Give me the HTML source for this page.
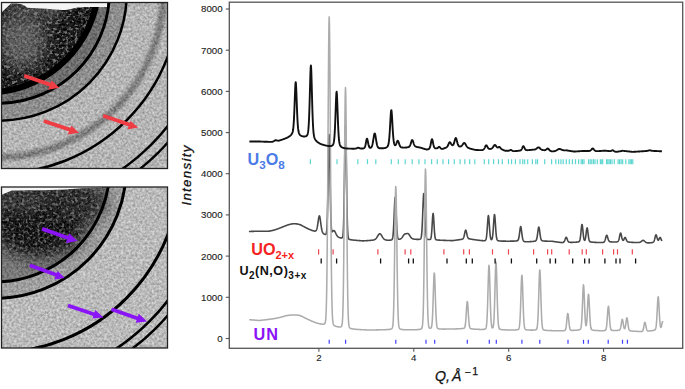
<!DOCTYPE html>
<html><head><meta charset="utf-8"><style>
html,body{margin:0;padding:0;background:#fff;}
svg{display:block;}
</style></head><body>
<svg width="685" height="389" viewBox="0 0 685 389">
<rect width="685" height="389" fill="#fff"/>

<defs>
 <filter id="grain" x="0" y="0" width="100%" height="100%" color-interpolation-filters="sRGB">
  <feTurbulence type="fractalNoise" baseFrequency="0.42" numOctaves="2" seed="7" result="n"/>
  <feColorMatrix in="n" type="matrix" values="1 0 0 0 0  1 0 0 0 0  1 0 0 0 0  0 0 0 0 1" result="g0"/>
  <feGaussianBlur in="g0" stdDeviation="0.7" result="g"/>
  <feComposite in="SourceGraphic" in2="g" operator="arithmetic" k1="0" k2="1" k3="0.42" k4="-0.21"/>
 </filter>
 <filter id="speck" x="0" y="0" width="100%" height="100%" color-interpolation-filters="sRGB">
  <feTurbulence type="fractalNoise" baseFrequency="0.32" numOctaves="2" seed="11" result="n"/>
  <feColorMatrix in="n" type="matrix" values="0 0 0 0 0.5  0 0 0 0 0.5  0 0 0 0 0.5  5 0 0 0 -2.6"/>
  <feGaussianBlur stdDeviation="0.35"/>
 </filter>
 <filter id="b15" x="-30%" y="-30%" width="160%" height="160%"><feGaussianBlur stdDeviation="1.6"/></filter>
 <filter id="b4" x="-50%" y="-50%" width="200%" height="200%"><feGaussianBlur stdDeviation="4"/></filter>
 <filter id="b8" x="-50%" y="-50%" width="200%" height="200%"><feGaussianBlur stdDeviation="8"/></filter>
 <filter id="b12" x="-50%" y="-50%" width="200%" height="200%"><feGaussianBlur stdDeviation="12"/></filter>
 <clipPath id="cTop"><rect x="1.5" y="2.5" width="166" height="166"/></clipPath>
 <clipPath id="cBot"><rect x="1.5" y="187" width="166" height="161"/></clipPath>
 <clipPath id="cTopDark"><ellipse cx="-1.60" cy="-7.70" rx="111.00" ry="111.00" transform="rotate(45 -1.60 -7.70)" fill="none"/></clipPath>
 <clipPath id="cBotDark"><circle cx="-4.75" cy="167.3" r="114.6"/></clipPath>
</defs>
<g clip-path="url(#cTop)">
 <g filter="url(#grain)">
  <rect x="0" y="0" width="172" height="172" fill="#b5b5b5"/>
  <circle cx="-1.60" cy="-7.70" r="128.40" fill="#8e8e8e"/>
  <ellipse cx="-1.60" cy="-7.70" rx="111.00" ry="111.00" transform="rotate(45 -1.60 -7.70)" fill="#6a6a6a"/>
  <ellipse cx="-1.60" cy="-7.70" rx="95.50" ry="104.50" transform="rotate(45 -1.60 -7.70)" fill="#161616"/>
  <ellipse cx="22" cy="40" rx="24" ry="30" fill="#5a5a5a" filter="url(#b8)"/>
  <ellipse cx="35" cy="12" rx="30" ry="9" fill="#444" filter="url(#b4)"/>
  <circle cx="-1.60" cy="-7.70" r="165.00" fill="none" stroke="#7c7c7c" stroke-width="7.00" filter="url(#b15)"/>
 </g>
 <rect x="0" y="0" width="172" height="172" filter="url(#speck)" clip-path="url(#cTopDark)" opacity="0.9"/>
 <ellipse cx="-1.60" cy="-7.70" rx="95.50" ry="104.50" transform="rotate(45 -1.60 -7.70)" fill="none" stroke="#000" stroke-width="6.00"/>
 <path d="M0,0 L107,0 L107,7 C100,7 90,7 80,7.2 C75,7.5 70,10 62,10 C55,9.5 40,8.2 27,7.8 C25,5 20,3.6 14,3.6 L11,3.6 L2,12 L0,12 Z" fill="#f4f4f4"/>
 <ellipse cx="-1.60" cy="-7.70" rx="111.00" ry="111.00" transform="rotate(45 -1.60 -7.70)" fill="none" stroke="#000" stroke-width="2.90"/>
 <circle cx="-1.60" cy="-7.70" r="128.40" fill="none" stroke="#000" stroke-width="2.50"/>
 <circle cx="-1.60" cy="-7.70" r="181.20" fill="none" stroke="#000" stroke-width="2.50"/>
 <circle cx="-1.60" cy="-7.70" r="215.80" fill="none" stroke="#000" stroke-width="2.50"/>
 <circle cx="-1.60" cy="-7.70" r="226.40" fill="none" stroke="#000" stroke-width="2.30"/>
 <polygon points="23.6,77.6 49.4,86.4 48.2,89.7 59.4,87.8 51.6,80.4 50.7,82.8 24.8,74.0" fill="#ef3d45"/><polygon points="43.2,122.8 69.1,131.4 67.6,134.5 79.1,132.7 71.4,125.8 70.3,127.8 44.4,119.2" fill="#ef3d45"/><polygon points="102.6,117.6 128.6,126.4 127.4,129.6 138.2,127.6 130.5,121.0 129.8,122.8 103.8,114.0" fill="#ef3d45"/>
</g>
<rect x="1.5" y="2.5" width="166" height="166" fill="none" stroke="#222" stroke-width="1.3"/>
<g clip-path="url(#cBot)">
 <g filter="url(#grain)">
  <rect x="0" y="185" width="172" height="166" fill="#bababa"/>
  <circle cx="-4.75" cy="167.30" r="131.10" fill="#9e9e9e"/>
  <circle cx="-4.75" cy="167.30" r="114.60" fill="#787878"/>
  <ellipse cx="38" cy="222" rx="48" ry="36" fill="#141414" filter="url(#b8)"/>
  <ellipse cx="20" cy="200" rx="30" ry="14" fill="#333" filter="url(#b4)"/>
  <ellipse cx="78" cy="202" rx="28" ry="20" fill="#262626" filter="url(#b8)"/>
 </g>
 <rect x="0" y="185" width="172" height="166" filter="url(#speck)" clip-path="url(#cBotDark)" opacity="0.75"/>
 <circle cx="-4.75" cy="167.30" r="114.60" fill="none" stroke="#000" stroke-width="3.00"/>
 <circle cx="-4.75" cy="167.30" r="131.10" fill="none" stroke="#000" stroke-width="3.00"/>
 <circle cx="-4.75" cy="167.30" r="185.30" fill="none" stroke="#000" stroke-width="3.00"/>
 <circle cx="-4.75" cy="167.30" r="218.00" fill="none" stroke="#000" stroke-width="2.60"/>
 <circle cx="-4.75" cy="167.30" r="227.30" fill="none" stroke="#000" stroke-width="2.50"/>
 <path d="M0,186 L102,186 L102,187.6 C90,188 80,188.3 72,189 C55,190.2 30,190.4 12,190.4 L2,194.5 L0,194.5 Z" fill="#f4f4f4"/>
 <polygon points="41.6,230.7 67.0,239.4 65.9,242.9 77.4,241.0 69.1,233.3 68.3,235.9 42.8,227.1" fill="#8a14f6"/><polygon points="29.1,267.1 55.5,276.6 54.3,279.5 64.8,277.9 57.6,270.9 56.7,273.0 30.3,263.5" fill="#8a14f6"/><polygon points="67.4,307.3 93.2,316.1 92.4,318.6 103.5,317.6 95.3,309.9 94.4,312.5 68.6,303.7" fill="#8a14f6"/><polygon points="110.9,311.1 136.6,320.0 135.6,322.7 147.0,321.6 138.8,313.7 137.8,316.4 112.1,307.5" fill="#8a14f6"/>
</g>
<rect x="1.5" y="187" width="166" height="161" fill="none" stroke="#222" stroke-width="1.3"/>


<g fill="none" stroke-linejoin="round">
 <path d="M248.90,231.49 L249.15,231.48 L249.40,231.48 L249.65,231.47 L249.90,231.46 L250.15,231.45 L250.40,231.44 L250.65,231.44 L250.90,231.43 L251.15,231.42 L251.40,231.41 L251.65,231.40 L251.90,231.40 L252.15,231.39 L252.40,231.38 L252.65,231.37 L252.90,231.36 L253.15,231.36 L253.40,231.35 L253.65,231.34 L253.90,231.33 L254.15,231.32 L254.40,231.32 L254.65,231.31 L254.90,231.30 L255.15,231.29 L255.40,231.28 L255.65,231.27 L255.90,231.27 L256.15,231.26 L256.40,231.25 L256.65,231.24 L256.90,231.23 L257.15,231.22 L257.40,231.21 L257.65,231.21 L257.90,231.20 L258.15,231.19 L258.40,231.18 L258.65,231.18 L258.90,231.18 L259.15,231.19 L259.40,231.19 L259.65,231.20 L259.90,231.20 L260.15,231.21 L260.40,231.21 L260.65,231.22 L260.90,231.22 L261.15,231.23 L261.40,231.23 L261.65,231.23 L261.90,231.24 L262.15,231.24 L262.40,231.24 L262.65,231.25 L262.90,231.25 L263.15,231.25 L263.40,231.25 L263.65,231.25 L263.90,231.25 L264.15,231.26 L264.40,231.26 L264.65,231.26 L264.90,231.25 L265.15,231.25 L265.40,231.25 L265.65,231.25 L265.90,231.25 L266.15,231.24 L266.40,231.24 L266.65,231.24 L266.90,231.23 L267.15,231.22 L267.40,231.22 L267.65,231.21 L267.90,231.20 L268.15,231.19 L268.40,231.18 L268.65,231.17 L268.90,231.16 L269.15,231.15 L269.40,231.12 L269.65,231.08 L269.90,231.03 L270.15,230.99 L270.40,230.94 L270.65,230.89 L270.90,230.84 L271.15,230.79 L271.40,230.73 L271.65,230.68 L271.90,230.62 L272.15,230.57 L272.40,230.51 L272.65,230.45 L272.90,230.39 L273.15,230.33 L273.40,230.26 L273.65,230.20 L273.90,230.13 L274.15,230.06 L274.40,229.99 L274.65,229.92 L274.90,229.84 L275.15,229.77 L275.40,229.69 L275.65,229.61 L275.90,229.53 L276.15,229.45 L276.40,229.36 L276.65,229.28 L276.90,229.19 L277.15,229.10 L277.40,229.01 L277.65,228.92 L277.90,228.83 L278.15,228.73 L278.40,228.63 L278.65,228.53 L278.90,228.43 L279.15,228.33 L279.40,228.23 L279.65,228.12 L279.90,228.02 L280.15,227.92 L280.40,227.83 L280.65,227.74 L280.90,227.64 L281.15,227.55 L281.40,227.45 L281.65,227.35 L281.90,227.26 L282.15,227.16 L282.40,227.06 L282.65,226.96 L282.90,226.86 L283.15,226.76 L283.40,226.66 L283.65,226.56 L283.90,226.45 L284.15,226.35 L284.40,226.25 L284.65,226.15 L284.90,226.05 L285.15,225.95 L285.40,225.85 L285.65,225.76 L285.90,225.66 L286.15,225.56 L286.40,225.47 L286.65,225.38 L286.90,225.28 L287.15,225.19 L287.40,225.10 L287.65,225.02 L287.90,224.93 L288.15,224.85 L288.40,224.77 L288.65,224.69 L288.90,224.62 L289.15,224.54 L289.40,224.47 L289.65,224.41 L289.90,224.34 L290.15,224.28 L290.40,224.22 L290.65,224.16 L290.90,224.11 L291.15,224.06 L291.40,224.02 L291.65,223.98 L291.90,223.94 L292.15,223.90 L292.40,223.87 L292.65,223.84 L292.90,223.82 L293.15,223.80 L293.40,223.78 L293.65,223.77 L293.90,223.76 L294.15,223.76 L294.40,223.76 L294.65,223.76 L294.90,223.77 L295.15,223.78 L295.40,223.79 L295.65,223.81 L295.90,223.83 L296.15,223.85 L296.40,223.88 L296.65,223.91 L296.90,223.95 L297.15,223.99 L297.40,224.03 L297.65,224.07 L297.90,224.12 L298.15,224.17 L298.40,224.23 L298.65,224.28 L298.90,224.34 L299.15,224.41 L299.40,224.47 L299.65,224.54 L299.90,224.61 L300.15,224.70 L300.40,224.82 L300.65,224.95 L300.90,225.07 L301.15,225.20 L301.40,225.32 L301.65,225.45 L301.90,225.58 L302.15,225.71 L302.40,225.84 L302.65,225.97 L302.90,226.10 L303.15,226.24 L303.40,226.37 L303.65,226.50 L303.90,226.64 L304.15,226.77 L304.40,226.90 L304.65,227.04 L304.90,227.17 L305.15,227.30 L305.40,227.43 L305.65,227.57 L305.90,227.70 L306.15,227.83 L306.40,227.95 L306.65,228.08 L306.90,228.21 L307.15,228.33 L307.40,228.46 L307.65,228.58 L307.90,228.70 L308.15,228.82 L308.40,228.94 L308.65,229.05 L308.90,229.17 L309.15,229.28 L309.40,229.39 L309.65,229.50 L309.90,229.61 L310.15,229.71 L310.40,229.81 L310.65,229.91 L310.90,230.01 L311.15,230.10 L311.40,230.20 L311.65,230.29 L311.90,230.37 L312.15,230.46 L312.40,230.54 L312.65,230.62 L312.90,230.69 L313.15,230.76 L313.40,230.83 L313.65,230.89 L313.90,230.95 L314.15,231.00 L314.40,231.05 L314.65,231.09 L314.90,231.11 L315.15,231.10 L315.40,231.05 L315.65,230.95 L315.90,230.77 L316.15,230.49 L316.40,230.06 L316.65,229.47 L316.90,228.68 L317.15,227.67 L317.40,226.42 L317.65,224.96 L317.90,223.33 L318.15,221.59 L318.40,219.86 L318.65,218.27 L318.90,216.97 L319.15,216.13 L319.40,215.88 L319.65,216.26 L319.90,217.22 L320.15,218.66 L320.40,220.42 L320.65,222.31 L320.90,224.21 L321.15,226.01 L321.40,227.64 L321.65,229.04 L321.90,230.22 L322.15,231.18 L322.40,231.93 L322.65,232.51 L322.90,232.96 L323.15,233.30 L323.40,233.56 L323.65,233.76 L323.90,233.93 L324.15,234.06 L324.40,234.18 L324.65,234.27 L324.90,234.36 L325.15,234.42 L325.40,234.45 L325.65,234.42 L325.90,234.28 L326.15,233.90 L326.40,233.05 L326.65,231.36 L326.90,228.32 L327.15,223.28 L327.40,215.59 L327.65,204.83 L327.90,191.12 L328.15,175.39 L328.40,159.41 L328.65,145.66 L328.90,136.70 L329.15,134.47 L329.40,139.50 L329.65,150.60 L329.90,165.48 L330.15,181.53 L330.40,196.49 L330.65,208.92 L330.90,218.23 L331.15,224.55 L331.40,228.43 L331.65,230.54 L331.90,231.52 L332.15,231.82 L332.40,231.75 L332.65,231.52 L332.90,231.23 L333.15,230.95 L333.40,230.73 L333.65,230.59 L333.90,230.56 L334.15,230.64 L334.40,230.84 L334.65,231.15 L334.90,231.54 L335.15,232.00 L335.40,232.50 L335.65,233.02 L335.90,233.55 L336.15,234.07 L336.40,234.56 L336.65,235.02 L336.90,235.45 L337.15,235.83 L337.40,236.16 L337.65,236.46 L337.90,236.71 L338.15,236.92 L338.40,237.11 L338.65,237.26 L338.90,237.39 L339.15,237.50 L339.40,237.59 L339.65,237.66 L339.90,237.73 L340.15,237.78 L340.40,237.82 L340.65,237.86 L340.90,237.88 L341.15,237.90 L341.40,237.91 L341.65,237.89 L341.90,237.83 L342.15,237.70 L342.40,237.39 L342.65,236.73 L342.90,235.43 L343.15,232.98 L343.40,228.74 L343.65,221.94 L343.90,211.91 L344.15,198.38 L344.40,181.83 L344.65,163.70 L344.90,146.35 L345.15,132.71 L345.40,125.51 L345.65,126.40 L345.90,135.17 L346.15,149.90 L346.40,167.73 L346.65,185.82 L346.90,201.95 L347.15,214.90 L347.40,224.35 L347.65,230.68 L347.90,234.61 L348.15,236.87 L348.40,238.09 L348.65,238.73 L348.90,239.07 L349.15,239.26 L349.40,239.38 L349.65,239.47 L349.90,239.54 L350.15,239.60 L350.40,239.65 L350.65,239.70 L350.90,239.75 L351.15,239.79 L351.40,239.83 L351.65,239.87 L351.90,239.90 L352.15,239.93 L352.40,239.97 L352.65,240.00 L352.90,240.03 L353.15,240.05 L353.40,240.08 L353.65,240.11 L353.90,240.13 L354.15,240.16 L354.40,240.18 L354.65,240.21 L354.90,240.23 L355.15,240.25 L355.40,240.28 L355.65,240.30 L355.90,240.32 L356.15,240.34 L356.40,240.36 L356.65,240.39 L356.90,240.41 L357.15,240.43 L357.40,240.45 L357.65,240.47 L357.90,240.49 L358.15,240.51 L358.40,240.53 L358.65,240.55 L358.90,240.57 L359.15,240.59 L359.40,240.61 L359.65,240.63 L359.90,240.64 L360.15,240.66 L360.40,240.68 L360.65,240.70 L360.90,240.72 L361.15,240.74 L361.40,240.76 L361.65,240.77 L361.90,240.79 L362.15,240.81 L362.40,240.83 L362.65,240.85 L362.90,240.86 L363.15,240.88 L363.40,240.86 L363.65,240.85 L363.90,240.83 L364.15,240.82 L364.40,240.80 L364.65,240.79 L364.90,240.77 L365.15,240.76 L365.40,240.74 L365.65,240.73 L365.90,240.71 L366.15,240.70 L366.40,240.68 L366.65,240.66 L366.90,240.65 L367.15,240.63 L367.40,240.62 L367.65,240.60 L367.90,240.58 L368.15,240.56 L368.40,240.55 L368.65,240.53 L368.90,240.51 L369.15,240.49 L369.40,240.47 L369.65,240.45 L369.90,240.43 L370.15,240.41 L370.40,240.39 L370.65,240.37 L370.90,240.34 L371.15,240.32 L371.40,240.29 L371.65,240.27 L371.90,240.24 L372.15,240.20 L372.40,240.17 L372.65,240.14 L372.90,240.11 L373.15,240.07 L373.40,240.02 L373.65,239.97 L373.90,239.90 L374.15,239.81 L374.40,239.71 L374.65,239.59 L374.90,239.45 L375.15,239.29 L375.40,239.09 L375.65,238.87 L375.90,238.62 L376.15,238.34 L376.40,238.03 L376.65,237.69 L376.90,237.33 L377.15,236.94 L377.40,236.53 L377.65,236.12 L377.90,235.71 L378.15,235.30 L378.40,234.92 L378.65,234.57 L378.90,234.26 L379.15,234.01 L379.40,233.84 L379.65,233.74 L379.90,233.74 L380.15,233.81 L380.40,233.98 L380.65,234.21 L380.90,234.51 L381.15,234.85 L381.40,235.24 L381.65,235.64 L381.90,236.05 L382.15,236.47 L382.40,236.88 L382.65,237.27 L382.90,237.64 L383.15,237.99 L383.40,238.30 L383.65,238.59 L383.90,238.85 L384.15,239.08 L384.40,239.28 L384.65,239.45 L384.90,239.59 L385.15,239.72 L385.40,239.82 L385.65,239.90 L385.90,239.97 L386.15,240.03 L386.40,240.08 L386.65,240.11 L386.90,240.14 L387.15,240.16 L387.40,240.18 L387.65,240.19 L387.90,240.20 L388.15,240.21 L388.40,240.21 L388.65,240.21 L388.90,240.21 L389.15,240.20 L389.40,240.20 L389.65,240.19 L389.90,240.17 L390.15,240.16 L390.40,240.14 L390.65,240.11 L390.90,240.08 L391.15,240.04 L391.40,239.98 L391.65,239.88 L391.90,239.70 L392.15,239.40 L392.40,238.86 L392.65,237.93 L392.90,236.43 L393.15,234.15 L393.40,230.90 L393.65,226.56 L393.90,221.21 L394.15,215.14 L394.40,208.92 L394.65,203.32 L394.90,199.21 L395.15,197.35 L395.40,198.13 L395.65,201.36 L395.90,206.42 L396.15,212.45 L396.40,218.61 L396.65,224.25 L396.90,228.96 L397.15,232.59 L397.40,235.19 L397.65,236.92 L397.90,238.00 L398.15,238.63 L398.40,238.97 L398.65,239.15 L398.90,239.24 L399.15,239.27 L399.40,239.26 L399.65,239.23 L399.90,239.17 L400.15,239.09 L400.40,238.99 L400.65,238.86 L400.90,238.70 L401.15,238.50 L401.40,238.28 L401.65,238.02 L401.90,237.73 L402.15,237.41 L402.40,237.06 L402.65,236.68 L402.90,236.30 L403.15,235.91 L403.40,235.52 L403.65,235.15 L403.90,234.82 L404.15,234.53 L404.40,234.29 L404.65,234.11 L404.90,233.99 L405.15,233.90 L405.40,233.85 L405.65,233.82 L405.90,233.79 L406.15,233.75 L406.40,233.70 L406.65,233.65 L406.90,233.59 L407.15,233.53 L407.40,233.49 L407.65,233.48 L407.90,233.52 L408.15,233.62 L408.40,233.79 L408.65,234.03 L408.90,234.33 L409.15,234.68 L409.40,235.07 L409.65,235.48 L409.90,235.89 L410.15,236.29 L410.40,236.68 L410.65,237.04 L410.90,237.37 L411.15,237.67 L411.40,237.93 L411.65,238.15 L411.90,238.35 L412.15,238.50 L412.40,238.64 L412.65,238.76 L412.90,238.86 L413.15,238.95 L413.40,239.02 L413.65,239.07 L413.90,239.12 L414.15,239.16 L414.40,239.19 L414.65,239.22 L414.90,239.24 L415.15,239.26 L415.40,239.28 L415.65,239.30 L415.90,239.31 L416.15,239.32 L416.40,239.34 L416.65,239.34 L416.90,239.35 L417.15,239.36 L417.40,239.36 L417.65,239.37 L417.90,239.37 L418.15,239.37 L418.40,239.36 L418.65,239.36 L418.90,239.35 L419.15,239.33 L419.40,239.31 L419.65,239.28 L419.90,239.23 L420.15,239.15 L420.40,239.01 L420.65,238.75 L420.90,238.29 L421.15,237.49 L421.40,236.17 L421.65,234.10 L421.90,231.04 L422.15,226.84 L422.40,221.49 L422.65,215.19 L422.90,208.45 L423.15,202.03 L423.40,196.85 L423.65,193.81 L423.90,193.52 L424.15,196.06 L424.40,200.89 L424.65,207.15 L424.90,213.91 L425.15,220.36 L425.40,225.94 L425.65,230.39 L425.90,233.67 L426.15,235.93 L426.40,237.40 L426.65,238.29 L426.90,238.82 L427.15,239.12 L427.40,239.29 L427.65,239.39 L427.90,239.45 L428.15,239.50 L428.40,239.53 L428.65,239.55 L428.90,239.57 L429.15,239.57 L429.40,239.57 L429.65,239.56 L429.90,239.52 L430.15,239.44 L430.40,239.26 L430.65,238.91 L430.90,238.26 L431.15,237.12 L431.40,235.29 L431.65,232.63 L431.90,229.10 L432.15,224.91 L432.40,220.52 L432.65,216.64 L432.90,214.06 L433.15,213.42 L433.40,214.91 L433.65,218.13 L433.90,222.33 L434.15,226.73 L434.40,230.72 L434.65,233.94 L434.90,236.27 L435.15,237.82 L435.40,238.77 L435.65,239.31 L435.90,239.61 L436.15,239.77 L436.40,239.86 L436.65,239.91 L436.90,239.95 L437.15,239.98 L437.40,240.01 L437.65,240.03 L437.90,240.05 L438.15,240.07 L438.40,240.09 L438.65,240.10 L438.90,240.12 L439.15,240.13 L439.40,240.15 L439.65,240.16 L439.90,240.17 L440.15,240.18 L440.40,240.20 L440.65,240.21 L440.90,240.22 L441.15,240.23 L441.40,240.24 L441.65,240.25 L441.90,240.27 L442.15,240.28 L442.40,240.29 L442.65,240.30 L442.90,240.31 L443.15,240.32 L443.40,240.33 L443.65,240.34 L443.90,240.35 L444.15,240.36 L444.40,240.37 L444.65,240.37 L444.90,240.38 L445.15,240.39 L445.40,240.40 L445.65,240.41 L445.90,240.42 L446.15,240.43 L446.40,240.44 L446.65,240.45 L446.90,240.46 L447.15,240.46 L447.40,240.47 L447.65,240.48 L447.90,240.49 L448.15,240.50 L448.40,240.51 L448.65,240.51 L448.90,240.52 L449.15,240.53 L449.40,240.54 L449.65,240.55 L449.90,240.56 L450.15,240.56 L450.40,240.57 L450.65,240.58 L450.90,240.59 L451.15,240.60 L451.40,240.60 L451.65,240.61 L451.90,240.62 L452.15,240.63 L452.40,240.62 L452.65,240.59 L452.90,240.56 L453.15,240.53 L453.40,240.49 L453.65,240.46 L453.90,240.43 L454.15,240.40 L454.40,240.37 L454.65,240.34 L454.90,240.31 L455.15,240.27 L455.40,240.24 L455.65,240.21 L455.90,240.18 L456.15,240.15 L456.40,240.11 L456.65,240.08 L456.90,240.05 L457.15,240.01 L457.40,239.98 L457.65,239.95 L457.90,239.91 L458.15,239.88 L458.40,239.84 L458.65,239.80 L458.90,239.77 L459.15,239.73 L459.40,239.69 L459.65,239.65 L459.90,239.61 L460.15,239.57 L460.40,239.53 L460.65,239.48 L460.90,239.45 L461.15,239.42 L461.40,239.38 L461.65,239.33 L461.90,239.28 L462.15,239.21 L462.40,239.11 L462.65,238.97 L462.90,238.78 L463.15,238.49 L463.40,238.08 L463.65,237.53 L463.90,236.79 L464.15,235.87 L464.40,234.79 L464.65,233.59 L464.90,232.38 L465.15,231.27 L465.40,230.45 L465.65,230.07 L465.90,230.22 L466.15,230.85 L466.40,231.83 L466.65,233.00 L466.90,234.19 L467.15,235.30 L467.40,236.26 L467.65,237.04 L467.90,237.64 L468.15,238.07 L468.40,238.37 L468.65,238.58 L468.90,238.71 L469.15,238.79 L469.40,238.84 L469.65,238.87 L469.90,238.91 L470.15,238.97 L470.40,239.03 L470.65,239.08 L470.90,239.13 L471.15,239.18 L471.40,239.22 L471.65,239.26 L471.90,239.31 L472.15,239.35 L472.40,239.39 L472.65,239.43 L472.90,239.47 L473.15,239.51 L473.40,239.54 L473.65,239.58 L473.90,239.62 L474.15,239.65 L474.40,239.69 L474.65,239.72 L474.90,239.76 L475.15,239.79 L475.40,239.83 L475.65,239.86 L475.90,239.90 L476.15,239.93 L476.40,239.96 L476.65,240.00 L476.90,240.03 L477.15,240.06 L477.40,240.09 L477.65,240.13 L477.90,240.16 L478.15,240.19 L478.40,240.22 L478.65,240.25 L478.90,240.28 L479.15,240.31 L479.40,240.34 L479.65,240.37 L479.90,240.40 L480.15,240.43 L480.40,240.46 L480.65,240.48 L480.90,240.51 L481.15,240.53 L481.40,240.56 L481.65,240.58 L481.90,240.60 L482.15,240.62 L482.40,240.64 L482.65,240.66 L482.90,240.67 L483.15,240.69 L483.40,240.69 L483.65,240.70 L483.90,240.70 L484.15,240.70 L484.40,240.68 L484.65,240.66 L484.90,240.61 L485.15,240.52 L485.40,240.35 L485.65,240.03 L485.90,239.51 L486.15,238.67 L486.40,237.38 L486.65,235.50 L486.90,232.96 L487.15,229.77 L487.40,226.09 L487.65,222.28 L487.90,218.84 L488.15,216.39 L488.40,215.49 L488.65,216.36 L488.90,218.78 L489.15,222.19 L489.40,225.97 L489.65,229.61 L489.90,232.77 L490.15,235.26 L490.40,237.09 L490.65,238.32 L490.90,239.09 L491.15,239.50 L491.40,239.65 L491.65,239.57 L491.90,239.25 L492.15,238.61 L492.40,237.54 L492.65,235.90 L492.90,233.58 L493.15,230.56 L493.40,226.95 L493.65,223.02 L493.90,219.25 L494.15,216.25 L494.40,214.64 L494.65,214.84 L494.90,216.80 L495.15,220.04 L495.40,223.92 L495.65,227.84 L495.90,231.39 L496.15,234.31 L496.40,236.53 L496.65,238.10 L496.90,239.14 L497.15,239.80 L497.40,240.20 L497.65,240.45 L497.90,240.60 L498.15,240.70 L498.40,240.77 L498.65,240.82 L498.90,240.87 L499.15,240.90 L499.40,240.93 L499.65,240.96 L499.90,240.98 L500.15,241.01 L500.40,241.02 L500.65,241.04 L500.90,241.05 L501.15,241.07 L501.40,241.08 L501.65,241.09 L501.90,241.10 L502.15,241.11 L502.40,241.12 L502.65,241.12 L502.90,241.13 L503.15,241.14 L503.40,241.14 L503.65,241.15 L503.90,241.15 L504.15,241.15 L504.40,241.16 L504.65,241.16 L504.90,241.16 L505.15,241.17 L505.40,241.17 L505.65,241.17 L505.90,241.17 L506.15,241.18 L506.40,241.18 L506.65,241.18 L506.90,241.18 L507.15,241.18 L507.40,241.18 L507.65,241.18 L507.90,241.18 L508.15,241.18 L508.40,241.18 L508.65,241.18 L508.90,241.18 L509.15,241.18 L509.40,241.18 L509.65,241.18 L509.90,241.18 L510.15,241.17 L510.40,241.17 L510.65,241.17 L510.90,241.17 L511.15,241.17 L511.40,241.16 L511.65,241.16 L511.90,241.15 L512.15,241.15 L512.40,241.14 L512.65,241.14 L512.90,241.13 L513.15,241.13 L513.40,241.12 L513.65,241.11 L513.90,241.10 L514.15,241.09 L514.40,241.08 L514.65,241.06 L514.90,241.05 L515.15,241.03 L515.40,241.01 L515.65,240.99 L515.90,240.96 L516.15,240.94 L516.40,240.92 L516.65,240.90 L516.90,240.87 L517.15,240.81 L517.40,240.72 L517.65,240.58 L517.90,240.34 L518.15,239.98 L518.40,239.42 L518.65,238.62 L518.90,237.53 L519.15,236.11 L519.40,234.38 L519.65,232.43 L519.90,230.42 L520.15,228.57 L520.40,227.19 L520.65,226.57 L520.90,226.87 L521.15,228.03 L521.40,229.77 L521.65,231.80 L521.90,233.85 L522.15,235.72 L522.40,237.32 L522.65,238.59 L522.90,239.56 L523.15,240.25 L523.40,240.73 L523.65,241.06 L523.90,241.28 L524.15,241.44 L524.40,241.55 L524.65,241.61 L524.90,241.64 L525.15,241.67 L525.40,241.69 L525.65,241.71 L525.90,241.72 L526.15,241.73 L526.40,241.73 L526.65,241.73 L526.90,241.74 L527.15,241.74 L527.40,241.73 L527.65,241.73 L527.90,241.72 L528.15,241.72 L528.40,241.71 L528.65,241.71 L528.90,241.70 L529.15,241.69 L529.40,241.68 L529.65,241.67 L529.90,241.66 L530.15,241.64 L530.40,241.63 L530.65,241.62 L530.90,241.60 L531.15,241.59 L531.40,241.57 L531.65,241.55 L531.90,241.53 L532.15,241.52 L532.40,241.49 L532.65,241.47 L532.90,241.45 L533.15,241.42 L533.40,241.39 L533.65,241.36 L533.90,241.33 L534.15,241.29 L534.40,241.25 L534.65,241.20 L534.90,241.14 L535.15,241.06 L535.40,240.96 L535.65,240.81 L535.90,240.59 L536.15,240.26 L536.40,239.78 L536.65,239.09 L536.90,238.12 L537.15,236.86 L537.40,235.29 L537.65,233.47 L537.90,231.52 L538.15,229.63 L538.40,228.07 L538.65,227.13 L538.90,227.03 L539.15,227.79 L539.40,229.23 L539.65,231.06 L539.90,232.99 L540.15,234.83 L540.40,236.43 L540.65,237.73 L540.90,238.73 L541.15,239.45 L541.40,239.95 L541.65,240.29 L541.90,240.52 L542.15,240.66 L542.40,240.77 L542.65,240.84 L542.90,240.89 L543.15,240.93 L543.40,240.97 L543.65,240.99 L543.90,241.02 L544.15,241.04 L544.40,241.06 L544.65,241.08 L544.90,241.09 L545.15,241.10 L545.40,241.12 L545.65,241.13 L545.90,241.13 L546.15,241.14 L546.40,241.15 L546.65,241.16 L546.90,241.16 L547.15,241.17 L547.40,241.18 L547.65,241.18 L547.90,241.18 L548.15,241.19 L548.40,241.19 L548.65,241.20 L548.90,241.20 L549.15,241.20 L549.40,241.20 L549.65,241.21 L549.90,241.21 L550.15,241.21 L550.40,241.21 L550.65,241.21 L550.90,241.22 L551.15,241.22 L551.40,241.22 L551.65,241.22 L551.90,241.25 L552.15,241.29 L552.40,241.33 L552.65,241.36 L552.90,241.40 L553.15,241.44 L553.40,241.47 L553.65,241.51 L553.90,241.55 L554.15,241.58 L554.40,241.62 L554.65,241.66 L554.90,241.69 L555.15,241.73 L555.40,241.76 L555.65,241.80 L555.90,241.84 L556.15,241.87 L556.40,241.91 L556.65,241.94 L556.90,241.98 L557.15,242.01 L557.40,242.05 L557.65,242.08 L557.90,242.12 L558.15,242.15 L558.40,242.19 L558.65,242.22 L558.90,242.25 L559.15,242.29 L559.40,242.32 L559.65,242.35 L559.90,242.38 L560.15,242.41 L560.40,242.45 L560.65,242.47 L560.90,242.50 L561.15,242.53 L561.40,242.56 L561.65,242.58 L561.90,242.60 L562.15,242.60 L562.40,242.56 L562.65,242.52 L562.90,242.47 L563.15,242.39 L563.40,242.28 L563.65,242.11 L563.90,241.88 L564.15,241.56 L564.40,241.13 L564.65,240.60 L564.90,239.98 L565.15,239.29 L565.40,238.59 L565.65,237.95 L565.90,237.48 L566.15,237.26 L566.40,237.34 L566.65,237.71 L566.90,238.27 L567.15,238.94 L567.40,239.63 L567.65,240.27 L567.90,240.82 L568.15,241.27 L568.40,241.62 L568.65,241.87 L568.90,242.04 L569.15,242.16 L569.40,242.23 L569.65,242.28 L569.90,242.31 L570.15,242.33 L570.40,242.34 L570.65,242.35 L570.90,242.35 L571.15,242.35 L571.40,242.35 L571.65,242.35 L571.90,242.35 L572.15,242.34 L572.40,242.34 L572.65,242.33 L572.90,242.32 L573.15,242.32 L573.40,242.31 L573.65,242.30 L573.90,242.29 L574.15,242.28 L574.40,242.27 L574.65,242.26 L574.90,242.25 L575.15,242.23 L575.40,242.22 L575.65,242.21 L575.90,242.19 L576.15,242.17 L576.40,242.15 L576.65,242.13 L576.90,242.11 L577.15,242.08 L577.40,242.05 L577.65,242.02 L577.90,241.99 L578.15,241.94 L578.40,241.88 L578.65,241.81 L578.90,241.69 L579.15,241.51 L579.40,241.21 L579.65,240.73 L579.90,239.97 L580.15,238.85 L580.40,237.28 L580.65,235.24 L580.90,232.81 L581.15,230.18 L581.40,227.65 L581.65,225.63 L581.90,224.54 L582.15,224.65 L582.40,225.93 L582.65,228.06 L582.90,230.61 L583.15,233.19 L583.40,235.51 L583.65,237.41 L583.90,238.81 L584.15,239.73 L584.40,240.23 L584.65,240.35 L584.90,240.11 L585.15,239.49 L585.40,238.48 L585.65,237.07 L585.90,235.28 L586.15,233.25 L586.40,231.18 L586.65,229.39 L586.90,228.20 L587.15,227.92 L587.40,228.62 L587.65,230.12 L587.90,232.10 L588.15,234.23 L588.40,236.23 L588.65,237.93 L588.90,239.27 L589.15,240.24 L589.40,240.91 L589.65,241.33 L589.90,241.60 L590.15,241.77 L590.40,241.88 L590.65,241.95 L590.90,242.00 L591.15,242.05 L591.40,242.08 L591.65,242.11 L591.90,242.14 L592.15,242.16 L592.40,242.19 L592.65,242.21 L592.90,242.23 L593.15,242.25 L593.40,242.27 L593.65,242.28 L593.90,242.30 L594.15,242.31 L594.40,242.33 L594.65,242.34 L594.90,242.35 L595.15,242.37 L595.40,242.38 L595.65,242.39 L595.90,242.40 L596.15,242.41 L596.40,242.43 L596.65,242.44 L596.90,242.45 L597.15,242.46 L597.40,242.47 L597.65,242.47 L597.90,242.48 L598.15,242.49 L598.40,242.50 L598.65,242.51 L598.90,242.51 L599.15,242.52 L599.40,242.53 L599.65,242.53 L599.90,242.54 L600.15,242.54 L600.40,242.55 L600.65,242.55 L600.90,242.55 L601.15,242.55 L601.40,242.55 L601.65,242.55 L601.90,242.55 L602.15,242.54 L602.40,242.53 L602.65,242.52 L602.90,242.50 L603.15,242.46 L603.40,242.38 L603.65,242.26 L603.90,242.09 L604.15,241.85 L604.40,241.53 L604.65,241.08 L604.90,240.51 L605.15,239.79 L605.40,238.94 L605.65,238.01 L605.90,237.07 L606.15,236.21 L606.40,235.57 L606.65,235.26 L606.90,235.35 L607.15,235.82 L607.40,236.55 L607.65,237.41 L607.90,238.30 L608.15,239.13 L608.40,239.84 L608.65,240.42 L608.90,240.86 L609.15,241.17 L609.40,241.38 L609.65,241.55 L609.90,241.66 L610.15,241.74 L610.40,241.80 L610.65,241.84 L610.90,241.87 L611.15,241.89 L611.40,241.91 L611.65,241.93 L611.90,241.94 L612.15,241.95 L612.40,241.97 L612.65,241.98 L612.90,241.98 L613.15,241.99 L613.40,242.00 L613.65,242.00 L613.90,242.01 L614.15,242.01 L614.40,242.01 L614.65,242.01 L614.90,242.01 L615.15,242.00 L615.40,242.00 L615.65,241.99 L615.90,241.98 L616.15,241.97 L616.40,241.95 L616.65,241.92 L616.90,241.89 L617.15,241.84 L617.40,241.77 L617.65,241.65 L617.90,241.47 L618.15,241.20 L618.40,240.80 L618.65,240.23 L618.90,239.48 L619.15,238.53 L619.40,237.41 L619.65,236.19 L619.90,234.98 L620.15,233.94 L620.40,233.25 L620.65,233.07 L620.90,233.44 L621.15,234.27 L621.40,235.38 L621.65,236.58 L621.90,237.72 L622.15,238.71 L622.40,239.49 L622.65,240.03 L622.90,240.32 L623.15,240.38 L623.40,240.24 L623.65,239.91 L623.90,239.45 L624.15,238.91 L624.40,238.35 L624.65,237.86 L624.90,237.54 L625.15,237.48 L625.40,237.69 L625.65,238.14 L625.90,238.72 L626.15,239.35 L626.40,239.96 L626.65,240.50 L626.90,240.95 L627.15,241.29 L627.40,241.55 L627.65,241.73 L627.90,241.86 L628.15,241.95 L628.40,242.02 L628.65,242.07 L628.90,242.11 L629.15,242.14 L629.40,242.16 L629.65,242.19 L629.90,242.21 L630.15,242.23 L630.40,242.25 L630.65,242.27 L630.90,242.28 L631.15,242.30 L631.40,242.31 L631.65,242.33 L631.90,242.34 L632.15,242.36 L632.40,242.37 L632.65,242.38 L632.90,242.39 L633.15,242.41 L633.40,242.42 L633.65,242.43 L633.90,242.44 L634.15,242.45 L634.40,242.46 L634.65,242.47 L634.90,242.48 L635.15,242.49 L635.40,242.50 L635.65,242.51 L635.90,242.51 L636.15,242.52 L636.40,242.53 L636.65,242.54 L636.90,242.54 L637.15,242.54 L637.40,242.55 L637.65,242.55 L637.90,242.55 L638.15,242.54 L638.40,242.53 L638.65,242.51 L638.90,242.49 L639.15,242.45 L639.40,242.40 L639.65,242.34 L639.90,242.26 L640.15,242.16 L640.40,242.04 L640.65,241.90 L640.90,241.74 L641.15,241.56 L641.40,241.36 L641.65,241.16 L641.90,240.96 L642.15,240.77 L642.40,240.60 L642.65,240.46 L642.90,240.37 L643.15,240.35 L643.40,240.38 L643.65,240.47 L643.90,240.62 L644.15,240.81 L644.40,241.03 L644.65,241.26 L644.90,241.49 L645.15,241.72 L645.40,241.94 L645.65,242.14 L645.90,242.32 L646.15,242.47 L646.40,242.60 L646.65,242.68 L646.90,242.75 L647.15,242.80 L647.40,242.83 L647.65,242.85 L647.90,242.87 L648.15,242.87 L648.40,242.87 L648.65,242.87 L648.90,242.86 L649.15,242.85 L649.40,242.84 L649.65,242.82 L649.90,242.81 L650.15,242.79 L650.40,242.77 L650.65,242.75 L650.90,242.72 L651.15,242.70 L651.40,242.67 L651.65,242.64 L651.90,242.60 L652.15,242.56 L652.40,242.51 L652.65,242.44 L652.90,242.34 L653.15,242.21 L653.40,242.01 L653.65,241.72 L653.90,241.31 L654.15,240.75 L654.40,240.02 L654.65,239.13 L654.90,238.12 L655.15,237.06 L655.40,236.05 L655.65,235.24 L655.90,234.80 L656.15,234.82 L656.40,235.28 L656.65,236.08 L656.90,237.03 L657.15,238.00 L657.40,238.86 L657.65,239.54 L657.90,239.99 L658.15,240.20 L658.40,240.16 L658.65,239.91 L658.90,239.49 L659.15,238.96 L659.40,238.39 L659.65,237.89 L659.90,237.56 L660.15,237.49 L660.40,237.69 L660.65,238.14 L660.90,238.72 L661.15,239.35 L661.40,239.96 L661.65,240.50 L661.90,240.95" stroke="#484848" stroke-width="1.6"/>
 <path d="M249.20,319.69 L249.45,319.71 L249.70,319.73 L249.95,319.75 L250.20,319.77 L250.45,319.79 L250.70,319.81 L250.95,319.83 L251.20,319.85 L251.45,319.87 L251.70,319.89 L251.95,319.91 L252.20,319.93 L252.45,319.95 L252.70,319.97 L252.95,319.98 L253.20,320.00 L253.45,320.02 L253.70,320.04 L253.95,320.06 L254.20,320.08 L254.45,320.10 L254.70,320.12 L254.95,320.14 L255.20,320.16 L255.45,320.18 L255.70,320.20 L255.95,320.22 L256.20,320.24 L256.45,320.26 L256.70,320.28 L256.95,320.30 L257.20,320.32 L257.45,320.34 L257.70,320.36 L257.95,320.38 L258.20,320.40 L258.45,320.42 L258.70,320.44 L258.95,320.46 L259.20,320.48 L259.45,320.47 L259.70,320.44 L259.95,320.41 L260.20,320.38 L260.45,320.36 L260.70,320.33 L260.95,320.30 L261.20,320.27 L261.45,320.24 L261.70,320.22 L261.95,320.19 L262.20,320.16 L262.45,320.13 L262.70,320.10 L262.95,320.07 L263.20,320.05 L263.45,320.02 L263.70,319.99 L263.95,319.96 L264.20,319.93 L264.45,319.90 L264.70,319.87 L264.95,319.84 L265.20,319.81 L265.45,319.79 L265.70,319.76 L265.95,319.73 L266.20,319.70 L266.45,319.67 L266.70,319.64 L266.95,319.61 L267.20,319.58 L267.45,319.55 L267.70,319.51 L267.95,319.48 L268.20,319.45 L268.45,319.42 L268.70,319.39 L268.95,319.36 L269.20,319.33 L269.45,319.29 L269.70,319.26 L269.95,319.23 L270.20,319.19 L270.45,319.16 L270.70,319.12 L270.95,319.09 L271.20,319.05 L271.45,319.02 L271.70,318.98 L271.95,318.95 L272.20,318.91 L272.45,318.87 L272.70,318.83 L272.95,318.80 L273.20,318.76 L273.45,318.72 L273.70,318.68 L273.95,318.63 L274.20,318.59 L274.45,318.55 L274.70,318.51 L274.95,318.46 L275.20,318.42 L275.45,318.37 L275.70,318.32 L275.95,318.28 L276.20,318.23 L276.45,318.18 L276.70,318.13 L276.95,318.08 L277.20,318.03 L277.45,317.97 L277.70,317.92 L277.95,317.87 L278.20,317.81 L278.45,317.76 L278.70,317.70 L278.95,317.64 L279.20,317.58 L279.45,317.52 L279.70,317.46 L279.95,317.40 L280.20,317.34 L280.45,317.27 L280.70,317.21 L280.95,317.14 L281.20,317.08 L281.45,317.01 L281.70,316.94 L281.95,316.88 L282.20,316.81 L282.45,316.74 L282.70,316.67 L282.95,316.60 L283.20,316.53 L283.45,316.45 L283.70,316.38 L283.95,316.31 L284.20,316.24 L284.45,316.16 L284.70,316.09 L284.95,316.02 L285.20,315.94 L285.45,315.87 L285.70,315.79 L285.95,315.72 L286.20,315.64 L286.45,315.61 L286.70,315.57 L286.95,315.54 L287.20,315.50 L287.45,315.46 L287.70,315.43 L287.95,315.40 L288.20,315.36 L288.45,315.33 L288.70,315.30 L288.95,315.27 L289.20,315.24 L289.45,315.21 L289.70,315.18 L289.95,315.15 L290.20,315.13 L290.45,315.10 L290.70,315.08 L290.95,315.06 L291.20,315.04 L291.45,315.02 L291.70,315.01 L291.95,314.99 L292.20,314.98 L292.45,314.97 L292.70,314.96 L292.95,314.95 L293.20,314.94 L293.45,314.94 L293.70,314.94 L293.95,314.94 L294.20,314.94 L294.45,314.94 L294.70,314.95 L294.95,314.96 L295.20,314.97 L295.45,314.98 L295.70,314.99 L295.95,315.01 L296.20,315.03 L296.45,315.05 L296.70,315.07 L296.95,315.09 L297.20,315.12 L297.45,315.14 L297.70,315.17 L297.95,315.20 L298.20,315.24 L298.45,315.27 L298.70,315.31 L298.95,315.34 L299.20,315.38 L299.45,315.42 L299.70,315.46 L299.95,315.51 L300.20,315.60 L300.45,315.72 L300.70,315.83 L300.95,315.95 L301.20,316.06 L301.45,316.18 L301.70,316.30 L301.95,316.42 L302.20,316.54 L302.45,316.66 L302.70,316.78 L302.95,316.90 L303.20,317.02 L303.45,317.14 L303.70,317.26 L303.95,317.38 L304.20,317.50 L304.45,317.63 L304.70,317.75 L304.95,317.87 L305.20,317.99 L305.45,318.11 L305.70,318.24 L305.95,318.36 L306.20,318.49 L306.45,318.62 L306.70,318.74 L306.95,318.87 L307.20,318.99 L307.45,319.11 L307.70,319.24 L307.95,319.36 L308.20,319.48 L308.45,319.60 L308.70,319.72 L308.95,319.84 L309.20,319.96 L309.45,320.07 L309.70,320.19 L309.95,320.30 L310.20,320.42 L310.45,320.53 L310.70,320.64 L310.95,320.75 L311.20,320.86 L311.45,320.97 L311.70,321.08 L311.95,321.19 L312.20,321.29 L312.45,321.40 L312.70,321.50 L312.95,321.60 L313.20,321.70 L313.45,321.80 L313.70,321.90 L313.95,322.00 L314.20,322.10 L314.45,322.20 L314.70,322.29 L314.95,322.39 L315.20,322.48 L315.45,322.57 L315.70,322.66 L315.95,322.75 L316.20,322.84 L316.45,322.93 L316.70,323.01 L316.95,323.10 L317.20,323.18 L317.45,323.24 L317.70,323.31 L317.95,323.37 L318.20,323.43 L318.45,323.49 L318.70,323.55 L318.95,323.60 L319.20,323.66 L319.45,323.71 L319.70,323.77 L319.95,323.82 L320.20,323.86 L320.45,323.91 L320.70,323.95 L320.95,323.99 L321.20,324.03 L321.45,324.06 L321.70,324.09 L321.95,324.12 L322.20,324.14 L322.45,324.16 L322.70,324.17 L322.95,324.17 L323.20,324.17 L323.45,324.15 L323.70,324.12 L323.95,324.08 L324.20,324.00 L324.45,323.88 L324.70,323.66 L324.95,323.29 L325.20,322.62 L325.45,321.44 L325.70,319.41 L325.95,315.99 L326.20,310.49 L326.45,302.03 L326.70,289.61 L326.95,272.25 L327.20,249.22 L327.45,220.34 L327.70,186.20 L327.95,148.42 L328.20,109.66 L328.45,73.40 L328.70,43.54 L328.95,23.80 L329.20,16.90 L329.45,23.86 L329.70,43.66 L329.95,73.58 L330.20,109.91 L330.45,148.73 L330.70,186.57 L330.95,220.77 L331.20,249.72 L331.45,272.81 L331.70,290.23 L331.95,302.71 L332.20,311.23 L332.45,316.80 L332.70,320.29 L332.95,322.43 L333.20,323.70 L333.45,324.47 L333.70,324.95 L333.95,325.26 L334.20,325.49 L334.45,325.66 L334.70,325.81 L334.95,325.94 L335.20,326.05 L335.45,326.15 L335.70,326.24 L335.95,326.33 L336.20,326.41 L336.45,326.48 L336.70,326.55 L336.95,326.61 L337.20,326.67 L337.45,326.72 L337.70,326.76 L337.95,326.81 L338.20,326.85 L338.45,326.88 L338.70,326.91 L338.95,326.93 L339.20,326.95 L339.45,326.96 L339.70,326.96 L339.95,326.95 L340.20,326.94 L340.45,326.91 L340.70,326.86 L340.95,326.78 L341.20,326.65 L341.45,326.40 L341.70,325.95 L341.95,325.12 L342.20,323.62 L342.45,320.99 L342.70,316.58 L342.95,309.55 L343.20,298.92 L343.45,283.75 L343.70,263.39 L343.95,237.79 L344.20,207.82 L344.45,175.43 L344.70,143.58 L344.95,115.94 L345.20,96.26 L345.45,87.60 L345.70,91.41 L345.95,107.05 L346.20,132.01 L346.45,162.72 L346.70,195.37 L346.95,226.68 L347.20,254.26 L347.45,276.83 L347.70,294.11 L347.95,306.53 L348.20,314.96 L348.45,320.38 L348.70,323.71 L348.95,325.67 L349.20,326.79 L349.45,327.43 L349.70,327.80 L349.95,328.04 L350.20,328.20 L350.45,328.32 L350.70,328.42 L350.95,328.51 L351.20,328.59 L351.45,328.66 L351.70,328.72 L351.95,328.77 L352.20,328.83 L352.45,328.87 L352.70,328.92 L352.95,328.96 L353.20,329.00 L353.45,329.03 L353.70,329.07 L353.95,329.10 L354.20,329.13 L354.45,329.16 L354.70,329.18 L354.95,329.21 L355.20,329.23 L355.45,329.26 L355.70,329.28 L355.95,329.30 L356.20,329.32 L356.45,329.34 L356.70,329.36 L356.95,329.38 L357.20,329.40 L357.45,329.42 L357.70,329.44 L357.95,329.45 L358.20,329.47 L358.45,329.49 L358.70,329.50 L358.95,329.52 L359.20,329.53 L359.45,329.55 L359.70,329.56 L359.95,329.58 L360.20,329.59 L360.45,329.61 L360.70,329.62 L360.95,329.64 L361.20,329.65 L361.45,329.66 L361.70,329.68 L361.95,329.69 L362.20,329.70 L362.45,329.72 L362.70,329.73 L362.95,329.74 L363.20,329.76 L363.45,329.77 L363.70,329.78 L363.95,329.79 L364.20,329.81 L364.45,329.82 L364.70,329.83 L364.95,329.84 L365.20,329.85 L365.45,329.87 L365.70,329.88 L365.95,329.89 L366.20,329.90 L366.45,329.91 L366.70,329.93 L366.95,329.94 L367.20,329.95 L367.45,329.96 L367.70,329.97 L367.95,329.98 L368.20,329.99 L368.45,329.99 L368.70,329.99 L368.95,329.99 L369.20,329.98 L369.45,329.98 L369.70,329.98 L369.95,329.98 L370.20,329.97 L370.45,329.97 L370.70,329.97 L370.95,329.97 L371.20,329.96 L371.45,329.96 L371.70,329.96 L371.95,329.95 L372.20,329.95 L372.45,329.95 L372.70,329.94 L372.95,329.94 L373.20,329.94 L373.45,329.94 L373.70,329.93 L373.95,329.93 L374.20,329.93 L374.45,329.92 L374.70,329.92 L374.95,329.91 L375.20,329.91 L375.45,329.91 L375.70,329.90 L375.95,329.90 L376.20,329.90 L376.45,329.89 L376.70,329.89 L376.95,329.88 L377.20,329.88 L377.45,329.88 L377.70,329.87 L377.95,329.87 L378.20,329.86 L378.45,329.86 L378.70,329.85 L378.95,329.85 L379.20,329.85 L379.45,329.84 L379.70,329.84 L379.95,329.83 L380.20,329.83 L380.45,329.82 L380.70,329.81 L380.95,329.81 L381.20,329.80 L381.45,329.80 L381.70,329.79 L381.95,329.79 L382.20,329.78 L382.45,329.77 L382.70,329.77 L382.95,329.76 L383.20,329.75 L383.45,329.74 L383.70,329.74 L383.95,329.73 L384.20,329.72 L384.45,329.71 L384.70,329.70 L384.95,329.69 L385.20,329.68 L385.45,329.67 L385.70,329.66 L385.95,329.65 L386.20,329.64 L386.45,329.62 L386.70,329.61 L386.95,329.59 L387.20,329.58 L387.45,329.56 L387.70,329.54 L387.95,329.52 L388.20,329.50 L388.45,329.48 L388.70,329.45 L388.95,329.42 L389.20,329.39 L389.45,329.36 L389.70,329.32 L389.95,329.28 L390.20,329.23 L390.45,329.18 L390.70,329.12 L390.95,329.05 L391.20,328.96 L391.45,328.85 L391.70,328.70 L391.95,328.47 L392.20,328.09 L392.45,327.44 L392.70,326.29 L392.95,324.30 L393.20,321.01 L393.45,315.82 L393.70,308.06 L393.95,297.18 L394.20,282.91 L394.45,265.51 L394.70,245.93 L394.95,225.87 L395.20,207.63 L395.45,193.78 L395.70,186.60 L395.95,187.43 L396.20,196.10 L396.45,211.04 L396.70,229.86 L396.95,250.01 L397.20,269.28 L397.45,286.12 L397.70,299.72 L397.95,309.95 L398.20,317.16 L398.45,321.93 L398.70,324.93 L398.95,326.73 L399.20,327.77 L399.45,328.36 L399.70,328.70 L399.95,328.92 L400.20,329.05 L400.45,329.15 L400.70,329.23 L400.95,329.30 L401.20,329.35 L401.45,329.40 L401.70,329.44 L401.95,329.48 L402.20,329.51 L402.45,329.54 L402.70,329.57 L402.95,329.59 L403.20,329.61 L403.45,329.63 L403.70,329.65 L403.95,329.66 L404.20,329.68 L404.45,329.69 L404.70,329.70 L404.95,329.71 L405.20,329.72 L405.45,329.73 L405.70,329.74 L405.95,329.74 L406.20,329.75 L406.45,329.76 L406.70,329.76 L406.95,329.77 L407.20,329.77 L407.45,329.77 L407.70,329.78 L407.95,329.78 L408.20,329.78 L408.45,329.79 L408.70,329.79 L408.95,329.79 L409.20,329.79 L409.45,329.79 L409.70,329.79 L409.95,329.79 L410.20,329.79 L410.45,329.79 L410.70,329.79 L410.95,329.79 L411.20,329.79 L411.45,329.79 L411.70,329.79 L411.95,329.78 L412.20,329.78 L412.45,329.78 L412.70,329.78 L412.95,329.77 L413.20,329.77 L413.45,329.76 L413.70,329.76 L413.95,329.75 L414.20,329.75 L414.45,329.74 L414.70,329.74 L414.95,329.73 L415.20,329.72 L415.45,329.71 L415.70,329.70 L415.95,329.69 L416.20,329.68 L416.45,329.67 L416.70,329.65 L416.95,329.64 L417.20,329.62 L417.45,329.61 L417.70,329.59 L417.95,329.57 L418.20,329.54 L418.45,329.52 L418.70,329.49 L418.95,329.45 L419.20,329.42 L419.45,329.38 L419.70,329.33 L419.95,329.28 L420.20,329.22 L420.45,329.16 L420.70,329.08 L420.95,328.98 L421.20,328.85 L421.45,328.67 L421.70,328.39 L421.95,327.92 L422.20,327.09 L422.45,325.63 L422.70,323.15 L422.95,319.09 L423.20,312.74 L423.45,303.40 L423.70,290.47 L423.95,273.75 L424.20,253.67 L424.45,231.47 L424.70,209.21 L424.95,189.54 L425.20,175.35 L425.45,169.02 L425.70,171.75 L425.95,183.00 L426.20,200.78 L426.45,222.32 L426.70,244.80 L426.95,265.89 L427.20,284.01 L427.45,298.43 L427.70,309.12 L427.95,316.55 L428.20,321.40 L428.45,324.40 L428.70,326.16 L428.95,327.16 L429.20,327.71 L429.45,328.01 L429.70,328.17 L429.95,328.25 L430.20,328.28 L430.45,328.27 L430.70,328.19 L430.95,328.03 L431.20,327.70 L431.45,327.09 L431.70,326.02 L431.95,324.27 L432.20,321.56 L432.45,317.61 L432.70,312.26 L432.95,305.54 L433.20,297.76 L433.45,289.58 L433.70,281.98 L433.95,276.09 L434.20,273.00 L434.45,273.36 L434.70,277.09 L434.95,283.43 L435.20,291.25 L435.45,299.43 L435.70,307.06 L435.95,313.54 L436.20,318.62 L436.45,322.32 L436.70,324.85 L436.95,326.47 L437.20,327.45 L437.45,328.03 L437.70,328.37 L437.95,328.56 L438.20,328.68 L438.45,328.76 L438.70,328.82 L438.95,328.87 L439.20,328.90 L439.45,328.93 L439.70,328.96 L439.95,328.98 L440.20,329.00 L440.45,329.02 L440.70,329.03 L440.95,329.04 L441.20,329.05 L441.45,329.06 L441.70,329.07 L441.95,329.08 L442.20,329.08 L442.45,329.09 L442.70,329.09 L442.95,329.10 L443.20,329.10 L443.45,329.10 L443.70,329.10 L443.95,329.10 L444.20,329.10 L444.45,329.10 L444.70,329.10 L444.95,329.10 L445.20,329.10 L445.45,329.10 L445.70,329.10 L445.95,329.09 L446.20,329.09 L446.45,329.09 L446.70,329.08 L446.95,329.08 L447.20,329.08 L447.45,329.07 L447.70,329.07 L447.95,329.07 L448.20,329.06 L448.45,329.06 L448.70,329.05 L448.95,329.05 L449.20,329.05 L449.45,329.04 L449.70,329.04 L449.95,329.03 L450.20,329.03 L450.45,329.02 L450.70,329.02 L450.95,329.01 L451.20,329.01 L451.45,329.00 L451.70,328.99 L451.95,328.99 L452.20,328.98 L452.45,328.98 L452.70,328.97 L452.95,328.97 L453.20,328.96 L453.45,328.95 L453.70,328.95 L453.95,328.94 L454.20,328.93 L454.45,328.93 L454.70,328.92 L454.95,328.91 L455.20,328.91 L455.45,328.90 L455.70,328.89 L455.95,328.88 L456.20,328.88 L456.45,328.87 L456.70,328.86 L456.95,328.85 L457.20,328.85 L457.45,328.84 L457.70,328.83 L457.95,328.82 L458.20,328.81 L458.45,328.80 L458.70,328.79 L458.95,328.78 L459.20,328.77 L459.45,328.76 L459.70,328.75 L459.95,328.73 L460.20,328.72 L460.45,328.71 L460.70,328.69 L460.95,328.68 L461.20,328.66 L461.45,328.64 L461.70,328.62 L461.95,328.60 L462.20,328.58 L462.45,328.55 L462.70,328.52 L462.95,328.49 L463.20,328.45 L463.45,328.40 L463.70,328.33 L463.95,328.23 L464.20,328.09 L464.45,327.85 L464.70,327.42 L464.95,326.69 L465.20,325.53 L465.45,323.77 L465.70,321.31 L465.95,318.12 L466.20,314.31 L466.45,310.20 L466.70,306.29 L466.95,303.21 L467.20,301.58 L467.45,301.78 L467.70,303.77 L467.95,307.10 L468.20,311.12 L468.45,315.22 L468.70,318.95 L468.95,322.03 L469.20,324.37 L469.45,326.02 L469.70,327.11 L469.95,327.79 L470.20,328.20 L470.45,328.45 L470.70,328.59 L470.95,328.69 L471.20,328.76 L471.45,328.81 L471.70,328.85 L471.95,328.89 L472.20,328.93 L472.45,328.96 L472.70,328.99 L472.95,329.01 L473.20,329.04 L473.45,329.06 L473.70,329.08 L473.95,329.10 L474.20,329.12 L474.45,329.14 L474.70,329.16 L474.95,329.18 L475.20,329.19 L475.45,329.21 L475.70,329.22 L475.95,329.24 L476.20,329.25 L476.45,329.26 L476.70,329.28 L476.95,329.29 L477.20,329.30 L477.45,329.31 L477.70,329.33 L477.95,329.34 L478.20,329.35 L478.45,329.36 L478.70,329.37 L478.95,329.37 L479.20,329.38 L479.45,329.39 L479.70,329.40 L479.95,329.40 L480.20,329.41 L480.45,329.41 L480.70,329.42 L480.95,329.42 L481.20,329.42 L481.45,329.42 L481.70,329.42 L481.95,329.42 L482.20,329.42 L482.45,329.41 L482.70,329.40 L482.95,329.39 L483.20,329.38 L483.45,329.36 L483.70,329.34 L483.95,329.31 L484.20,329.28 L484.45,329.24 L484.70,329.19 L484.95,329.12 L485.20,329.00 L485.45,328.83 L485.70,328.55 L485.95,328.07 L486.20,327.25 L486.45,325.87 L486.70,323.64 L486.95,320.26 L487.20,315.43 L487.45,308.99 L487.70,301.02 L487.95,291.98 L488.20,282.68 L488.45,274.28 L488.70,268.10 L488.95,265.31 L489.20,266.51 L489.45,271.42 L489.70,279.06 L489.95,288.12 L490.20,297.36 L490.45,305.80 L490.70,312.84 L490.95,318.27 L491.20,322.15 L491.45,324.74 L491.70,326.36 L491.95,327.29 L492.20,327.78 L492.45,327.94 L492.70,327.86 L492.95,327.49 L493.20,326.72 L493.45,325.33 L493.70,323.06 L493.95,319.55 L494.20,314.51 L494.45,307.78 L494.70,299.43 L494.95,289.95 L495.20,280.20 L495.45,271.39 L495.70,264.92 L495.95,262.02 L496.20,263.31 L496.45,268.51 L496.70,276.59 L496.95,286.16 L497.20,295.91 L497.45,304.83 L497.70,312.29 L497.95,318.05 L498.20,322.19 L498.45,324.98 L498.70,326.75 L498.95,327.83 L499.20,328.46 L499.45,328.83 L499.70,329.05 L499.95,329.19 L500.20,329.29 L500.45,329.37 L500.70,329.43 L500.95,329.48 L501.20,329.53 L501.45,329.57 L501.70,329.61 L501.95,329.64 L502.20,329.67 L502.45,329.69 L502.70,329.72 L502.95,329.74 L503.20,329.76 L503.45,329.77 L503.70,329.79 L503.95,329.80 L504.20,329.82 L504.45,329.83 L504.70,329.84 L504.95,329.85 L505.20,329.86 L505.45,329.87 L505.70,329.88 L505.95,329.89 L506.20,329.90 L506.45,329.91 L506.70,329.91 L506.95,329.92 L507.20,329.93 L507.45,329.93 L507.70,329.94 L507.95,329.94 L508.20,329.95 L508.45,329.95 L508.70,329.96 L508.95,329.96 L509.20,329.96 L509.45,329.97 L509.70,329.97 L509.95,329.97 L510.20,329.97 L510.45,329.98 L510.70,329.98 L510.95,329.98 L511.20,329.98 L511.45,329.98 L511.70,329.98 L511.95,329.98 L512.20,329.98 L512.45,329.98 L512.70,329.98 L512.95,329.97 L513.20,329.97 L513.45,329.97 L513.70,329.96 L513.95,329.96 L514.20,329.95 L514.45,329.94 L514.70,329.94 L514.95,329.93 L515.20,329.92 L515.45,329.90 L515.70,329.89 L515.95,329.87 L516.20,329.85 L516.45,329.83 L516.70,329.81 L516.95,329.78 L517.20,329.74 L517.45,329.70 L517.70,329.64 L517.95,329.57 L518.20,329.46 L518.45,329.29 L518.70,329.00 L518.95,328.50 L519.20,327.63 L519.45,326.20 L519.70,323.95 L519.95,320.61 L520.20,315.95 L520.45,309.92 L520.70,302.70 L520.95,294.80 L521.20,287.06 L521.45,280.53 L521.70,276.32 L521.95,275.29 L522.20,277.67 L522.45,282.93 L522.70,290.09 L522.95,298.01 L523.20,305.72 L523.45,312.51 L523.70,318.01 L523.95,322.13 L524.20,325.01 L524.45,326.90 L524.70,328.08 L524.95,328.78 L525.20,329.19 L525.45,329.43 L525.70,329.58 L525.95,329.67 L526.20,329.74 L526.45,329.80 L526.70,329.84 L526.95,329.88 L527.20,329.92 L527.45,329.94 L527.70,329.97 L527.95,329.99 L528.20,330.01 L528.45,330.03 L528.70,330.05 L528.95,330.06 L529.20,330.07 L529.45,330.08 L529.70,330.09 L529.95,330.10 L530.20,330.11 L530.45,330.12 L530.70,330.12 L530.95,330.12 L531.20,330.13 L531.45,330.13 L531.70,330.13 L531.95,330.13 L532.20,330.13 L532.45,330.12 L532.70,330.12 L532.95,330.11 L533.20,330.10 L533.45,330.09 L533.70,330.08 L533.95,330.06 L534.20,330.05 L534.45,330.02 L534.70,330.00 L534.95,329.96 L535.20,329.93 L535.45,329.88 L535.70,329.81 L535.95,329.72 L536.20,329.58 L536.45,329.35 L536.70,328.96 L536.95,328.27 L537.20,327.10 L537.45,325.19 L537.70,322.26 L537.95,318.00 L538.20,312.25 L538.45,305.01 L538.70,296.65 L538.95,287.86 L539.20,279.69 L539.45,273.37 L539.70,270.04 L539.95,270.43 L540.20,274.44 L540.45,281.25 L540.70,289.65 L540.95,298.43 L541.20,306.62 L541.45,313.59 L541.70,319.05 L541.95,323.03 L542.20,325.74 L542.45,327.49 L542.70,328.55 L542.95,329.18 L543.20,329.55 L543.45,329.77 L543.70,329.91 L543.95,330.00 L544.20,330.07 L544.45,330.13 L544.70,330.18 L544.95,330.22 L545.20,330.26 L545.45,330.29 L545.70,330.32 L545.95,330.35 L546.20,330.37 L546.45,330.39 L546.70,330.41 L546.95,330.43 L547.20,330.45 L547.45,330.46 L547.70,330.48 L547.95,330.49 L548.20,330.51 L548.45,330.52 L548.70,330.53 L548.95,330.54 L549.20,330.55 L549.45,330.56 L549.70,330.57 L549.95,330.58 L550.20,330.59 L550.45,330.60 L550.70,330.61 L550.95,330.61 L551.20,330.62 L551.45,330.63 L551.70,330.64 L551.95,330.64 L552.20,330.65 L552.45,330.66 L552.70,330.66 L552.95,330.67 L553.20,330.67 L553.45,330.68 L553.70,330.69 L553.95,330.69 L554.20,330.70 L554.45,330.70 L554.70,330.71 L554.95,330.71 L555.20,330.72 L555.45,330.72 L555.70,330.73 L555.95,330.73 L556.20,330.74 L556.45,330.74 L556.70,330.74 L556.95,330.75 L557.20,330.75 L557.45,330.75 L557.70,330.76 L557.95,330.76 L558.20,330.76 L558.45,330.77 L558.70,330.77 L558.95,330.77 L559.20,330.77 L559.45,330.78 L559.70,330.78 L559.95,330.78 L560.20,330.78 L560.45,330.78 L560.70,330.78 L560.95,330.78 L561.20,330.78 L561.45,330.78 L561.70,330.78 L561.95,330.77 L562.20,330.77 L562.45,330.76 L562.70,330.76 L562.95,330.75 L563.20,330.74 L563.45,330.72 L563.70,330.71 L563.95,330.68 L564.20,330.65 L564.45,330.59 L564.70,330.50 L564.95,330.34 L565.20,330.07 L565.45,329.60 L565.70,328.84 L565.95,327.71 L566.20,326.13 L566.45,324.09 L566.70,321.66 L566.95,319.04 L567.20,316.55 L567.45,314.57 L567.70,313.52 L567.95,313.62 L568.20,314.87 L568.45,316.95 L568.70,319.47 L568.95,322.05 L569.20,324.39 L569.45,326.32 L569.70,327.78 L569.95,328.80 L570.20,329.47 L570.45,329.88 L570.70,330.12 L570.95,330.25 L571.20,330.32 L571.45,330.36 L571.70,330.38 L571.95,330.39 L572.20,330.40 L572.45,330.40 L572.70,330.40 L572.95,330.39 L573.20,330.39 L573.45,330.38 L573.70,330.37 L573.95,330.36 L574.20,330.35 L574.45,330.34 L574.70,330.33 L574.95,330.31 L575.20,330.30 L575.45,330.28 L575.70,330.26 L575.95,330.24 L576.20,330.22 L576.45,330.20 L576.70,330.17 L576.95,330.15 L577.20,330.12 L577.45,330.09 L577.70,330.06 L577.95,330.02 L578.20,329.99 L578.45,329.94 L578.70,329.89 L578.95,329.84 L579.20,329.78 L579.45,329.71 L579.70,329.62 L579.95,329.49 L580.20,329.31 L580.45,329.02 L580.70,328.53 L580.95,327.72 L581.20,326.37 L581.45,324.26 L581.70,321.12 L581.95,316.79 L582.20,311.27 L582.45,304.82 L582.70,298.01 L582.95,291.73 L583.20,287.01 L583.45,284.85 L583.70,285.77 L583.95,289.53 L584.20,295.27 L584.45,301.94 L584.70,308.56 L584.95,314.42 L585.20,319.11 L585.45,322.49 L585.70,324.62 L585.95,325.60 L586.20,325.54 L586.45,324.45 L586.70,322.30 L586.95,319.07 L587.20,314.82 L587.45,309.78 L587.70,304.45 L587.95,299.51 L588.20,295.82 L588.45,294.16 L588.70,294.94 L588.95,297.98 L589.20,302.61 L589.45,307.97 L589.70,313.31 L589.95,318.05 L590.20,321.90 L590.45,324.78 L590.70,326.79 L590.95,328.10 L591.20,328.90 L591.45,329.39 L591.70,329.67 L591.95,329.85 L592.20,329.96 L592.45,330.04 L592.70,330.11 L592.95,330.16 L593.20,330.20 L593.45,330.24 L593.70,330.28 L593.95,330.31 L594.20,330.34 L594.45,330.37 L594.70,330.39 L594.95,330.41 L595.20,330.43 L595.45,330.45 L595.70,330.47 L595.95,330.49 L596.20,330.50 L596.45,330.52 L596.70,330.53 L596.95,330.55 L597.20,330.56 L597.45,330.57 L597.70,330.58 L597.95,330.59 L598.20,330.60 L598.45,330.61 L598.70,330.62 L598.95,330.63 L599.20,330.64 L599.45,330.65 L599.70,330.65 L599.95,330.66 L600.20,330.67 L600.45,330.67 L600.70,330.68 L600.95,330.68 L601.20,330.68 L601.45,330.69 L601.70,330.69 L601.95,330.69 L602.20,330.69 L602.45,330.69 L602.70,330.68 L602.95,330.68 L603.20,330.67 L603.45,330.67 L603.70,330.65 L603.95,330.64 L604.20,330.62 L604.45,330.59 L604.70,330.55 L604.95,330.49 L605.20,330.39 L605.45,330.21 L605.70,329.90 L605.95,329.36 L606.20,328.47 L606.45,327.11 L606.70,325.14 L606.95,322.52 L607.20,319.28 L607.45,315.65 L607.70,311.99 L607.95,308.85 L608.20,306.78 L608.45,306.27 L608.70,307.42 L608.95,309.97 L609.20,313.37 L609.45,317.05 L609.70,320.55 L609.95,323.54 L610.20,325.88 L610.45,327.57 L610.70,328.71 L610.95,329.43 L611.20,329.86 L611.45,330.11 L611.70,330.25 L611.95,330.33 L612.20,330.38 L612.45,330.41 L612.70,330.43 L612.95,330.45 L613.20,330.46 L613.45,330.47 L613.70,330.47 L613.95,330.47 L614.20,330.47 L614.45,330.47 L614.70,330.47 L614.95,330.47 L615.20,330.46 L615.45,330.46 L615.70,330.45 L615.95,330.44 L616.20,330.44 L616.45,330.43 L616.70,330.41 L616.95,330.40 L617.20,330.39 L617.45,330.37 L617.70,330.36 L617.95,330.34 L618.20,330.32 L618.45,330.29 L618.70,330.26 L618.95,330.21 L619.20,330.14 L619.45,330.03 L619.70,329.84 L619.95,329.55 L620.20,329.08 L620.45,328.38 L620.70,327.38 L620.95,326.09 L621.20,324.55 L621.45,322.89 L621.70,321.31 L621.95,320.06 L622.20,319.39 L622.45,319.47 L622.70,320.28 L622.95,321.62 L623.20,323.23 L623.45,324.87 L623.70,326.34 L623.95,327.50 L624.20,328.29 L624.45,328.69 L624.70,328.68 L624.95,328.25 L625.20,327.40 L625.45,326.14 L625.70,324.52 L625.95,322.66 L626.20,320.79 L626.45,319.17 L626.70,318.12 L626.95,317.88 L627.20,318.52 L627.45,319.88 L627.70,321.69 L627.95,323.65 L628.20,325.50 L628.45,327.09 L628.70,328.34 L628.95,329.26 L629.20,329.88 L629.45,330.28 L629.70,330.52 L629.95,330.68 L630.20,330.77 L630.45,330.83 L630.70,330.88 L630.95,330.92 L631.20,330.95 L631.45,330.98 L631.70,331.00 L631.95,331.03 L632.20,331.05 L632.45,331.07 L632.70,331.10 L632.95,331.12 L633.20,331.14 L633.45,331.15 L633.70,331.17 L633.95,331.19 L634.20,331.21 L634.45,331.23 L634.70,331.24 L634.95,331.26 L635.20,331.27 L635.45,331.29 L635.70,331.31 L635.95,331.32 L636.20,331.33 L636.45,331.35 L636.70,331.36 L636.95,331.38 L637.20,331.39 L637.45,331.40 L637.70,331.42 L637.95,331.43 L638.20,331.44 L638.45,331.45 L638.70,331.47 L638.95,331.48 L639.20,331.49 L639.45,331.50 L639.70,331.51 L639.95,331.51 L640.20,331.52 L640.45,331.53 L640.70,331.53 L640.95,331.53 L641.20,331.53 L641.45,331.52 L641.70,331.49 L641.95,331.43 L642.20,331.33 L642.45,331.14 L642.70,330.83 L642.95,330.30 L643.20,329.54 L643.45,328.54 L643.70,327.31 L643.95,325.93 L644.20,324.55 L644.45,323.35 L644.70,322.56 L644.95,322.34 L645.20,322.75 L645.45,323.68 L645.70,324.92 L645.95,326.28 L646.20,327.56 L646.45,328.65 L646.70,329.50 L646.95,330.11 L647.20,330.51 L647.45,330.75 L647.70,330.89 L647.95,330.96 L648.20,330.99 L648.45,330.99 L648.70,330.99 L648.95,330.97 L649.20,330.96 L649.45,330.94 L649.70,330.91 L649.95,330.89 L650.20,330.87 L650.45,330.84 L650.70,330.81 L650.95,330.78 L651.20,330.75 L651.45,330.72 L651.70,330.69 L651.95,330.65 L652.20,330.62 L652.45,330.58 L652.70,330.54 L652.95,330.50 L653.20,330.45 L653.45,330.40 L653.70,330.35 L653.95,330.28 L654.20,330.22 L654.45,330.13 L654.70,330.02 L654.95,329.86 L655.20,329.61 L655.45,329.19 L655.70,328.50 L655.95,327.38 L656.20,325.66 L656.45,323.15 L656.70,319.75 L656.95,315.48 L657.20,310.60 L657.45,305.56 L657.70,301.06 L657.95,297.89 L658.20,296.72 L658.45,297.84 L658.70,300.97 L658.95,305.42 L659.20,310.40 L659.45,315.23 L659.70,319.43 L659.95,322.75 L660.20,325.12 L660.45,326.62 L660.70,327.36 L660.95,327.48 L661.20,327.05 L661.45,326.17 L661.70,324.98 L661.95,323.67 L662.20,322.50 L662.45,321.78 L662.70,321.73 L662.95,322.37" stroke="#acacac" stroke-width="1.55"/>
 <path d="M249.40,141.55 L249.65,141.55 L249.90,141.55 L250.15,141.55 L250.40,141.55 L250.65,141.55 L250.90,141.55 L251.15,141.55 L251.40,141.55 L251.65,141.55 L251.90,141.55 L252.15,141.55 L252.40,141.55 L252.65,141.55 L252.90,141.55 L253.15,141.55 L253.40,141.55 L253.65,141.55 L253.90,141.55 L254.15,141.55 L254.40,141.55 L254.65,141.54 L254.90,141.54 L255.15,141.54 L255.40,141.54 L255.65,141.54 L255.90,141.54 L256.15,141.54 L256.40,141.54 L256.65,141.54 L256.90,141.54 L257.15,141.54 L257.40,141.54 L257.65,141.54 L257.90,141.54 L258.15,141.54 L258.40,141.54 L258.65,141.53 L258.90,141.53 L259.15,141.53 L259.40,141.53 L259.65,141.53 L259.90,141.54 L260.15,141.55 L260.40,141.56 L260.65,141.57 L260.90,141.58 L261.15,141.59 L261.40,141.60 L261.65,141.61 L261.90,141.62 L262.15,141.63 L262.40,141.64 L262.65,141.65 L262.90,141.65 L263.15,141.66 L263.40,141.67 L263.65,141.68 L263.90,141.69 L264.15,141.70 L264.40,141.71 L264.65,141.72 L264.90,141.73 L265.15,141.74 L265.40,141.74 L265.65,141.75 L265.90,141.76 L266.15,141.77 L266.40,141.78 L266.65,141.79 L266.90,141.80 L267.15,141.80 L267.40,141.81 L267.65,141.82 L267.90,141.83 L268.15,141.84 L268.40,141.84 L268.65,141.85 L268.90,141.86 L269.15,141.87 L269.40,141.87 L269.65,141.88 L269.90,141.89 L270.15,141.90 L270.40,141.90 L270.65,141.91 L270.90,141.91 L271.15,141.92 L271.40,141.92 L271.65,141.92 L271.90,141.89 L272.15,141.83 L272.40,141.77 L272.65,141.69 L272.90,141.61 L273.15,141.51 L273.40,141.39 L273.65,141.26 L273.90,141.11 L274.15,140.95 L274.40,140.78 L274.65,140.62 L274.90,140.47 L275.15,140.34 L275.40,140.26 L275.65,140.22 L275.90,140.22 L276.15,140.26 L276.40,140.33 L276.65,140.41 L276.90,140.48 L277.15,140.55 L277.40,140.61 L277.65,140.65 L277.90,140.67 L278.15,140.68 L278.40,140.68 L278.65,140.66 L278.90,140.64 L279.15,140.60 L279.40,140.53 L279.65,140.45 L279.90,140.37 L280.15,140.29 L280.40,140.21 L280.65,140.13 L280.90,140.04 L281.15,139.96 L281.40,139.88 L281.65,139.79 L281.90,139.71 L282.15,139.62 L282.40,139.54 L282.65,139.45 L282.90,139.36 L283.15,139.27 L283.40,139.18 L283.65,139.09 L283.90,139.00 L284.15,138.91 L284.40,138.82 L284.65,138.73 L284.90,138.63 L285.15,138.53 L285.40,138.44 L285.65,138.34 L285.90,138.24 L286.15,138.14 L286.40,138.03 L286.65,137.92 L286.90,137.79 L287.15,137.66 L287.40,137.53 L287.65,137.40 L287.90,137.26 L288.15,137.12 L288.40,136.98 L288.65,136.82 L288.90,136.67 L289.15,136.51 L289.40,136.33 L289.65,136.15 L289.90,135.97 L290.15,135.76 L290.40,135.55 L290.65,135.32 L290.90,135.06 L291.15,134.78 L291.40,134.47 L291.65,134.11 L291.90,133.69 L292.15,133.25 L292.40,132.70 L292.65,131.93 L292.90,130.84 L293.15,129.27 L293.40,127.07 L293.65,124.06 L293.90,120.11 L294.15,115.15 L294.40,109.23 L294.65,102.57 L294.90,95.64 L295.15,89.21 L295.40,84.32 L295.65,82.08 L295.90,83.09 L296.15,87.09 L296.40,93.08 L296.65,99.97 L296.90,106.85 L297.15,113.15 L297.40,118.56 L297.65,122.96 L297.90,126.37 L298.15,128.91 L298.40,130.76 L298.65,132.07 L298.90,132.99 L299.15,133.66 L299.40,134.14 L299.65,134.52 L299.90,134.81 L300.15,135.06 L300.40,135.28 L300.65,135.46 L300.90,135.63 L301.15,135.77 L301.40,135.90 L301.65,136.01 L301.90,136.11 L302.15,136.19 L302.40,136.27 L302.65,136.33 L302.90,136.39 L303.15,136.43 L303.40,136.46 L303.65,136.49 L303.90,136.50 L304.15,136.50 L304.40,136.49 L304.65,136.47 L304.90,136.43 L305.15,136.41 L305.40,136.38 L305.65,136.33 L305.90,136.26 L306.15,136.16 L306.40,136.02 L306.65,135.83 L306.90,135.57 L307.15,135.21 L307.40,134.71 L307.65,133.98 L307.90,132.92 L308.15,131.38 L308.40,129.14 L308.65,125.99 L308.90,121.69 L309.15,116.07 L309.40,109.05 L309.65,100.76 L309.90,91.56 L310.15,82.16 L310.40,73.71 L310.65,67.69 L310.90,65.54 L311.15,67.89 L311.40,74.11 L311.65,82.77 L311.90,92.37 L312.15,101.78 L312.40,110.28 L312.65,117.50 L312.90,123.32 L313.15,127.82 L313.40,131.18 L313.65,133.62 L313.90,135.37 L314.15,136.65 L314.40,137.59 L314.65,138.31 L314.90,138.88 L315.15,139.36 L315.40,139.77 L315.65,140.13 L315.90,140.45 L316.15,140.75 L316.40,141.02 L316.65,141.27 L316.90,141.50 L317.15,141.72 L317.40,141.92 L317.65,142.12 L317.90,142.31 L318.15,142.49 L318.40,142.66 L318.65,142.82 L318.90,142.98 L319.15,143.13 L319.40,143.28 L319.65,143.43 L319.90,143.57 L320.15,143.71 L320.40,143.85 L320.65,143.97 L320.90,144.06 L321.15,144.15 L321.40,144.24 L321.65,144.33 L321.90,144.41 L322.15,144.50 L322.40,144.58 L322.65,144.66 L322.90,144.73 L323.15,144.81 L323.40,144.88 L323.65,144.96 L323.90,145.03 L324.15,145.10 L324.40,145.17 L324.65,145.24 L324.90,145.30 L325.15,145.37 L325.40,145.42 L325.65,145.48 L325.90,145.54 L326.15,145.59 L326.40,145.64 L326.65,145.69 L326.90,145.74 L327.15,145.79 L327.40,145.83 L327.65,145.87 L327.90,145.91 L328.15,145.95 L328.40,145.98 L328.65,146.01 L328.90,146.03 L329.15,146.05 L329.40,146.07 L329.65,146.08 L329.90,146.08 L330.15,146.08 L330.40,146.07 L330.65,146.05 L330.90,146.01 L331.15,145.97 L331.40,145.90 L331.65,145.82 L331.90,145.72 L332.15,145.59 L332.40,145.41 L332.65,145.19 L332.90,144.88 L333.15,144.45 L333.40,143.84 L333.65,142.96 L333.90,141.68 L334.15,139.85 L334.40,137.29 L334.65,133.83 L334.90,129.35 L335.15,123.79 L335.40,117.27 L335.65,110.16 L335.90,103.05 L336.15,96.86 L336.40,92.75 L336.65,91.73 L336.90,94.10 L337.15,99.21 L337.40,105.93 L337.65,113.17 L337.90,120.12 L338.15,126.32 L338.40,131.51 L338.65,135.65 L338.90,138.81 L339.15,141.14 L339.40,142.81 L339.65,143.99 L339.90,144.83 L340.15,145.43 L340.40,145.89 L340.65,146.24 L340.90,146.52 L341.15,146.75 L341.40,146.95 L341.65,147.12 L341.90,147.28 L342.15,147.41 L342.40,147.53 L342.65,147.64 L342.90,147.74 L343.15,147.82 L343.40,147.90 L343.65,147.98 L343.90,148.04 L344.15,148.11 L344.40,148.16 L344.65,148.22 L344.90,148.27 L345.15,148.31 L345.40,148.34 L345.65,148.37 L345.90,148.40 L346.15,148.42 L346.40,148.44 L346.65,148.47 L346.90,148.48 L347.15,148.50 L347.40,148.52 L347.65,148.54 L347.90,148.55 L348.15,148.56 L348.40,148.58 L348.65,148.59 L348.90,148.60 L349.15,148.61 L349.40,148.62 L349.65,148.63 L349.90,148.64 L350.15,148.64 L350.40,148.65 L350.65,148.66 L350.90,148.66 L351.15,148.67 L351.40,148.67 L351.65,148.68 L351.90,148.68 L352.15,148.69 L352.40,148.69 L352.65,148.69 L352.90,148.69 L353.15,148.69 L353.40,148.70 L353.65,148.69 L353.90,148.69 L354.15,148.69 L354.40,148.68 L354.65,148.67 L354.90,148.66 L355.15,148.64 L355.40,148.61 L355.65,148.57 L355.90,148.51 L356.15,148.44 L356.40,148.36 L356.65,148.26 L356.90,148.15 L357.15,148.04 L357.40,147.93 L357.65,147.83 L357.90,147.76 L358.15,147.73 L358.40,147.74 L358.65,147.79 L358.90,147.87 L359.15,147.97 L359.40,148.08 L359.65,148.19 L359.90,148.28 L360.15,148.37 L360.40,148.43 L360.65,148.49 L360.90,148.52 L361.15,148.55 L361.40,148.56 L361.65,148.56 L361.90,148.56 L362.15,148.55 L362.40,148.53 L362.65,148.51 L362.90,148.49 L363.15,148.45 L363.40,148.40 L363.65,148.33 L363.90,148.22 L364.15,148.06 L364.40,147.82 L364.65,147.46 L364.90,146.95 L365.15,146.25 L365.40,145.33 L365.65,144.21 L365.90,142.92 L366.15,141.56 L366.40,140.28 L366.65,139.26 L366.90,138.71 L367.15,138.76 L367.40,139.40 L367.65,140.46 L367.90,141.75 L368.15,143.07 L368.40,144.31 L368.65,145.36 L368.90,146.21 L369.15,146.83 L369.40,147.27 L369.65,147.56 L369.90,147.73 L370.15,147.81 L370.40,147.81 L370.65,147.76 L370.90,147.65 L371.15,147.46 L371.40,147.18 L371.65,146.78 L371.90,146.24 L372.15,145.53 L372.40,144.63 L372.65,143.52 L372.90,142.22 L373.15,140.75 L373.40,139.17 L373.65,137.56 L373.90,136.04 L374.15,134.75 L374.40,133.84 L374.65,133.44 L374.90,133.62 L375.15,134.34 L375.40,135.50 L375.65,136.95 L375.90,138.54 L376.15,140.15 L376.40,141.68 L376.65,143.05 L376.90,144.25 L377.15,145.24 L377.40,146.04 L377.65,146.65 L377.90,147.12 L378.15,147.46 L378.40,147.71 L378.65,147.89 L378.90,148.01 L379.15,148.10 L379.40,148.16 L379.65,148.21 L379.90,148.24 L380.15,148.27 L380.40,148.29 L380.65,148.30 L380.90,148.31 L381.15,148.32 L381.40,148.32 L381.65,148.32 L381.90,148.32 L382.15,148.31 L382.40,148.30 L382.65,148.29 L382.90,148.28 L383.15,148.26 L383.40,148.23 L383.65,148.21 L383.90,148.18 L384.15,148.14 L384.40,148.10 L384.65,148.06 L384.90,148.01 L385.15,147.94 L385.40,147.87 L385.65,147.78 L385.90,147.68 L386.15,147.57 L386.40,147.44 L386.65,147.29 L386.90,147.12 L387.15,146.90 L387.40,146.63 L387.65,146.29 L387.90,145.82 L388.15,145.18 L388.40,144.31 L388.65,143.10 L388.90,141.48 L389.15,139.34 L389.40,136.61 L389.65,133.26 L389.90,129.34 L390.15,124.96 L390.40,120.40 L390.65,116.05 L390.90,112.50 L391.15,110.38 L391.40,110.15 L391.65,111.89 L391.90,115.17 L392.15,119.37 L392.40,123.89 L392.65,128.28 L392.90,132.27 L393.15,135.69 L393.40,138.49 L393.65,140.68 L393.90,142.33 L394.15,143.52 L394.40,144.34 L394.65,144.86 L394.90,145.15 L395.15,145.24 L395.40,145.16 L395.65,144.93 L395.90,144.56 L396.15,144.06 L396.40,143.46 L396.65,142.80 L396.90,142.12 L397.15,141.51 L397.40,141.03 L397.65,140.77 L397.90,140.79 L398.15,141.08 L398.40,141.61 L398.65,142.30 L398.90,143.07 L399.15,143.85 L399.40,144.59 L399.65,145.25 L399.90,145.82 L400.15,146.28 L400.40,146.64 L400.65,146.92 L400.90,147.12 L401.15,147.27 L401.40,147.37 L401.65,147.44 L401.90,147.49 L402.15,147.53 L402.40,147.56 L402.65,147.57 L402.90,147.59 L403.15,147.60 L403.40,147.60 L403.65,147.61 L403.90,147.61 L404.15,147.61 L404.40,147.61 L404.65,147.61 L404.90,147.60 L405.15,147.59 L405.40,147.57 L405.65,147.54 L405.90,147.52 L406.15,147.50 L406.40,147.47 L406.65,147.44 L406.90,147.41 L407.15,147.38 L407.40,147.34 L407.65,147.30 L407.90,147.25 L408.15,147.19 L408.40,147.11 L408.65,147.01 L408.90,146.88 L409.15,146.70 L409.40,146.46 L409.65,146.14 L409.90,145.73 L410.15,145.21 L410.40,144.59 L410.65,143.88 L410.90,143.09 L411.15,142.27 L411.40,141.48 L411.65,140.79 L411.90,140.29 L412.15,140.06 L412.40,140.13 L412.65,140.48 L412.90,141.06 L413.15,141.77 L413.40,142.54 L413.65,143.31 L413.90,144.01 L414.15,144.62 L414.40,145.14 L414.65,145.54 L414.90,145.85 L415.15,146.12 L415.40,146.34 L415.65,146.51 L415.90,146.63 L416.15,146.74 L416.40,146.82 L416.65,146.89 L416.90,146.96 L417.15,147.02 L417.40,147.07 L417.65,147.12 L417.90,147.17 L418.15,147.22 L418.40,147.27 L418.65,147.31 L418.90,147.36 L419.15,147.40 L419.40,147.44 L419.65,147.48 L419.90,147.53 L420.15,147.57 L420.40,147.61 L420.65,147.69 L420.90,147.77 L421.15,147.86 L421.40,147.94 L421.65,148.02 L421.90,148.10 L422.15,148.18 L422.40,148.27 L422.65,148.35 L422.90,148.43 L423.15,148.51 L423.40,148.58 L423.65,148.66 L423.90,148.74 L424.15,148.82 L424.40,148.90 L424.65,148.97 L424.90,149.05 L425.15,149.12 L425.40,149.20 L425.65,149.27 L425.90,149.34 L426.15,149.41 L426.40,149.48 L426.65,149.53 L426.90,149.49 L427.15,149.45 L427.40,149.40 L427.65,149.35 L427.90,149.29 L428.15,149.23 L428.40,149.15 L428.65,149.04 L428.90,148.89 L429.15,148.69 L429.40,148.39 L429.65,147.98 L429.90,147.41 L430.15,146.65 L430.40,145.70 L430.65,144.56 L430.90,143.29 L431.15,141.97 L431.40,140.74 L431.65,139.78 L431.90,139.26 L432.15,139.29 L432.40,139.86 L432.65,140.84 L432.90,142.04 L433.15,143.31 L433.40,144.51 L433.65,145.56 L433.90,146.42 L434.15,147.08 L434.40,147.56 L434.65,147.90 L434.90,148.12 L435.15,148.25 L435.40,148.33 L435.65,148.37 L435.90,148.38 L436.15,148.38 L436.40,148.35 L436.65,148.30 L436.90,148.27 L437.15,148.20 L437.40,148.08 L437.65,147.92 L437.90,147.72 L438.15,147.49 L438.40,147.24 L438.65,147.02 L438.90,146.86 L439.15,146.80 L439.40,146.87 L439.65,147.05 L439.90,147.31 L440.15,147.60 L440.40,147.90 L440.65,148.17 L440.90,148.41 L441.15,148.60 L441.40,148.75 L441.65,148.86 L441.90,148.95 L442.15,148.95 L442.40,148.89 L442.65,148.82 L442.90,148.75 L443.15,148.67 L443.40,148.59 L443.65,148.51 L443.90,148.43 L444.15,148.34 L444.40,148.25 L444.65,148.16 L444.90,148.07 L445.15,147.97 L445.40,147.87 L445.65,147.76 L445.90,147.65 L446.15,147.51 L446.40,147.35 L446.65,147.17 L446.90,146.96 L447.15,146.70 L447.40,146.38 L447.65,146.00 L447.90,145.54 L448.15,145.02 L448.40,144.45 L448.65,143.86 L448.90,143.28 L449.15,142.78 L449.40,142.40 L449.65,142.19 L449.90,142.17 L450.15,142.35 L450.40,142.67 L450.65,143.07 L450.90,143.51 L451.15,143.94 L451.40,144.32 L451.65,144.64 L451.90,144.87 L452.15,145.06 L452.40,145.18 L452.65,145.20 L452.90,145.11 L453.15,144.89 L453.40,144.54 L453.65,144.06 L453.90,143.43 L454.15,142.66 L454.40,141.79 L454.65,140.86 L454.90,139.93 L455.15,139.08 L455.40,138.42 L455.65,138.05 L455.90,138.04 L456.15,138.40 L456.40,139.07 L456.65,139.94 L456.90,140.92 L457.15,141.92 L457.40,142.87 L457.65,143.72 L457.90,144.45 L458.15,145.05 L458.40,145.52 L458.65,145.88 L458.90,146.14 L459.15,146.32 L459.40,146.44 L459.65,146.51 L459.90,146.55 L460.15,146.56 L460.40,146.53 L460.65,146.46 L460.90,146.36 L461.15,146.22 L461.40,146.04 L461.65,145.82 L461.90,145.55 L462.15,145.25 L462.40,144.91 L462.65,144.56 L462.90,144.19 L463.15,143.84 L463.40,143.51 L463.65,143.25 L463.90,143.06 L464.15,142.97 L464.40,142.99 L464.65,143.14 L464.90,143.38 L465.15,143.71 L465.40,144.10 L465.65,144.53 L465.90,144.97 L466.15,145.41 L466.40,145.82 L466.65,146.21 L466.90,146.57 L467.15,146.88 L467.40,147.15 L467.65,147.39 L467.90,147.59 L468.15,147.75 L468.40,147.89 L468.65,148.01 L468.90,148.10 L469.15,148.21 L469.40,148.31 L469.65,148.40 L469.90,148.49 L470.15,148.57 L470.40,148.64 L470.65,148.72 L470.90,148.79 L471.15,148.86 L471.40,148.92 L471.65,148.99 L471.90,149.06 L472.15,149.13 L472.40,149.19 L472.65,149.26 L472.90,149.32 L473.15,149.39 L473.40,149.45 L473.65,149.51 L473.90,149.58 L474.15,149.64 L474.40,149.70 L474.65,149.77 L474.90,149.83 L475.15,149.88 L475.40,149.90 L475.65,149.91 L475.90,149.93 L476.15,149.94 L476.40,149.96 L476.65,149.97 L476.90,149.99 L477.15,150.00 L477.40,150.01 L477.65,150.03 L477.90,150.04 L478.15,150.05 L478.40,150.07 L478.65,150.08 L478.90,150.09 L479.15,150.10 L479.40,150.11 L479.65,150.12 L479.90,150.13 L480.15,150.14 L480.40,150.15 L480.65,150.16 L480.90,150.16 L481.15,150.17 L481.40,150.17 L481.65,150.17 L481.90,150.17 L482.15,150.13 L482.40,150.06 L482.65,149.98 L482.90,149.87 L483.15,149.74 L483.40,149.57 L483.65,149.35 L483.90,149.07 L484.15,148.72 L484.40,148.31 L484.65,147.84 L484.90,147.33 L485.15,146.79 L485.40,146.28 L485.65,145.82 L485.90,145.49 L486.15,145.32 L486.40,145.35 L486.65,145.55 L486.90,145.89 L487.15,146.32 L487.40,146.78 L487.65,147.24 L487.90,147.66 L488.15,148.02 L488.40,148.32 L488.65,148.56 L488.90,148.73 L489.15,148.84 L489.40,148.91 L489.65,148.95 L489.90,148.96 L490.15,148.95 L490.40,148.92 L490.65,148.87 L490.90,148.82 L491.15,148.74 L491.40,148.64 L491.65,148.50 L491.90,148.34 L492.15,148.13 L492.40,147.88 L492.65,147.60 L492.90,147.27 L493.15,146.91 L493.40,146.52 L493.65,146.14 L493.90,145.77 L494.15,145.44 L494.40,145.19 L494.65,145.04 L494.90,145.00 L495.15,145.08 L495.40,145.27 L495.65,145.53 L495.90,145.84 L496.15,146.17 L496.40,146.50 L496.65,146.80 L496.90,147.06 L497.15,147.26 L497.40,147.40 L497.65,147.47 L497.90,147.47 L498.15,147.40 L498.40,147.28 L498.65,147.13 L498.90,146.97 L499.15,146.91 L499.40,146.95 L499.65,147.08 L499.90,147.29 L500.15,147.56 L500.40,147.86 L500.65,148.17 L500.90,148.46 L501.15,148.72 L501.40,148.95 L501.65,149.15 L501.90,149.32 L502.15,149.47 L502.40,149.60 L502.65,149.73 L502.90,149.84 L503.15,149.95 L503.40,150.05 L503.65,150.15 L503.90,150.26 L504.15,150.36 L504.40,150.46 L504.65,150.56 L504.90,150.65 L505.15,150.70 L505.40,150.72 L505.65,150.73 L505.90,150.75 L506.15,150.76 L506.40,150.78 L506.65,150.79 L506.90,150.80 L507.15,150.81 L507.40,150.82 L507.65,150.83 L507.90,150.82 L508.15,150.81 L508.40,150.79 L508.65,150.75 L508.90,150.70 L509.15,150.61 L509.40,150.51 L509.65,150.38 L509.90,150.24 L510.15,150.11 L510.40,150.00 L510.65,149.94 L510.90,149.95 L511.15,150.03 L511.40,150.15 L511.65,150.31 L511.90,150.48 L512.15,150.64 L512.40,150.77 L512.65,150.89 L512.90,150.98 L513.15,151.05 L513.40,151.11 L513.65,151.15 L513.90,151.18 L514.15,151.17 L514.40,151.15 L514.65,151.14 L514.90,151.12 L515.15,151.10 L515.40,151.08 L515.65,151.06 L515.90,151.04 L516.15,151.02 L516.40,151.00 L516.65,150.98 L516.90,150.95 L517.15,150.93 L517.40,150.91 L517.65,150.88 L517.90,150.86 L518.15,150.83 L518.40,150.80 L518.65,150.77 L518.90,150.74 L519.15,150.71 L519.40,150.68 L519.65,150.64 L519.90,150.59 L520.15,150.53 L520.40,150.45 L520.65,150.34 L520.90,150.19 L521.15,149.98 L521.40,149.69 L521.65,149.32 L521.90,148.86 L522.15,148.32 L522.40,147.74 L522.65,147.17 L522.90,146.66 L523.15,146.30 L523.40,146.16 L523.65,146.27 L523.90,146.60 L524.15,147.08 L524.40,147.63 L524.65,148.18 L524.90,148.68 L525.15,149.11 L525.40,149.46 L525.65,149.71 L525.90,149.90 L526.15,150.02 L526.40,150.10 L526.65,150.15 L526.90,150.18 L527.15,150.18 L527.40,150.18 L527.65,150.17 L527.90,150.16 L528.15,150.14 L528.40,150.12 L528.65,150.10 L528.90,150.08 L529.15,150.06 L529.40,150.04 L529.65,150.02 L529.90,150.00 L530.15,149.97 L530.40,149.95 L530.65,149.92 L530.90,149.90 L531.15,149.87 L531.40,149.85 L531.65,149.82 L531.90,149.79 L532.15,149.76 L532.40,149.73 L532.65,149.70 L532.90,149.67 L533.15,149.64 L533.40,149.64 L533.65,149.63 L533.90,149.62 L534.15,149.60 L534.40,149.57 L534.65,149.52 L534.90,149.46 L535.15,149.38 L535.40,149.29 L535.65,149.17 L535.90,149.02 L536.15,148.86 L536.40,148.67 L536.65,148.47 L536.90,148.26 L537.15,148.04 L537.40,147.84 L537.65,147.65 L537.90,147.50 L538.15,147.40 L538.40,147.35 L538.65,147.37 L538.90,147.45 L539.15,147.60 L539.40,147.78 L539.65,148.00 L539.90,148.23 L540.15,148.47 L540.40,148.71 L540.65,148.93 L540.90,149.14 L541.15,149.33 L541.40,149.49 L541.65,149.63 L541.90,149.75 L542.15,149.85 L542.40,149.93 L542.65,150.00 L542.90,150.05 L543.15,150.09 L543.40,150.12 L543.65,150.14 L543.90,150.15 L544.15,150.18 L544.40,150.19 L544.65,150.18 L544.90,150.16 L545.15,150.11 L545.40,150.04 L545.65,149.93 L545.90,149.78 L546.15,149.60 L546.40,149.39 L546.65,149.17 L546.90,148.94 L547.15,148.74 L547.40,148.59 L547.65,148.52 L547.90,148.54 L548.15,148.67 L548.40,148.88 L548.65,149.14 L548.90,149.44 L549.15,149.74 L549.40,150.02 L549.65,150.28 L549.90,150.51 L550.15,150.70 L550.40,150.86 L550.65,150.98 L550.90,151.09 L551.15,151.17 L551.40,151.24 L551.65,151.29 L551.90,151.34 L552.15,151.38 L552.40,151.42 L552.65,151.40 L552.90,151.38 L553.15,151.35 L553.40,151.32 L553.65,151.28 L553.90,151.24 L554.15,151.20 L554.40,151.15 L554.65,151.09 L554.90,151.02 L555.15,150.94 L555.40,150.86 L555.65,150.76 L555.90,150.65 L556.15,150.53 L556.40,150.40 L556.65,150.26 L556.90,150.12 L557.15,149.97 L557.40,149.81 L557.65,149.65 L557.90,149.50 L558.15,149.36 L558.40,149.23 L558.65,149.13 L558.90,149.04 L559.15,148.99 L559.40,148.96 L559.65,148.97 L559.90,149.01 L560.15,149.07 L560.40,149.15 L560.65,149.25 L560.90,149.36 L561.15,149.47 L561.40,149.58 L561.65,149.70 L561.90,149.80 L562.15,149.90 L562.40,149.99 L562.65,150.07 L562.90,150.14 L563.15,150.20 L563.40,150.25 L563.65,150.28 L563.90,150.31 L564.15,150.33 L564.40,150.35 L564.65,150.35 L564.90,150.36 L565.15,150.35 L565.40,150.35 L565.65,150.34 L565.90,150.33 L566.15,150.31 L566.40,150.32 L566.65,150.37 L566.90,150.41 L567.15,150.46 L567.40,150.50 L567.65,150.54 L567.90,150.58 L568.15,150.62 L568.40,150.67 L568.65,150.71 L568.90,150.75 L569.15,150.79 L569.40,150.83 L569.65,150.87 L569.90,150.91 L570.15,150.95 L570.40,150.99 L570.65,151.03 L570.90,151.07 L571.15,151.11 L571.40,151.15 L571.65,151.19 L571.90,151.23 L572.15,151.27 L572.40,151.31 L572.65,151.35 L572.90,151.39 L573.15,151.43 L573.40,151.47 L573.65,151.51 L573.90,151.55 L574.15,151.56 L574.40,151.54 L574.65,151.52 L574.90,151.51 L575.15,151.49 L575.40,151.48 L575.65,151.46 L575.90,151.44 L576.15,151.43 L576.40,151.41 L576.65,151.40 L576.90,151.38 L577.15,151.36 L577.40,151.35 L577.65,151.33 L577.90,151.32 L578.15,151.30 L578.40,151.28 L578.65,151.27 L578.90,151.25 L579.15,151.23 L579.40,151.22 L579.65,151.20 L579.90,151.18 L580.15,151.17 L580.40,151.15 L580.65,151.14 L580.90,151.12 L581.15,151.10 L581.40,151.09 L581.65,151.07 L581.90,151.05 L582.15,151.04 L582.40,151.02 L582.65,151.00 L582.90,150.98 L583.15,150.97 L583.40,150.97 L583.65,150.97 L583.90,150.98 L584.15,150.98 L584.40,150.99 L584.65,150.99 L584.90,150.99 L585.15,151.00 L585.40,151.00 L585.65,151.00 L585.90,151.01 L586.15,151.01 L586.40,151.01 L586.65,151.02 L586.90,151.02 L587.15,151.02 L587.40,151.02 L587.65,151.02 L587.90,151.02 L588.15,151.01 L588.40,151.01 L588.65,151.00 L588.90,150.98 L589.15,150.96 L589.40,150.92 L589.65,150.86 L589.90,150.79 L590.15,150.68 L590.40,150.53 L590.65,150.35 L590.90,150.13 L591.15,149.87 L591.40,149.58 L591.65,149.28 L591.90,148.99 L592.15,148.74 L592.40,148.56 L592.65,148.49 L592.90,148.53 L593.15,148.68 L593.40,148.92 L593.65,149.20 L593.90,149.51 L594.15,149.82 L594.40,150.10 L594.65,150.35 L594.90,150.56 L595.15,150.73 L595.40,150.87 L595.65,150.97 L595.90,151.04 L596.15,151.10 L596.40,151.14 L596.65,151.17 L596.90,151.17 L597.15,151.16 L597.40,151.15 L597.65,151.14 L597.90,151.13 L598.15,151.12 L598.40,151.11 L598.65,151.09 L598.90,151.08 L599.15,151.06 L599.40,151.05 L599.65,151.03 L599.90,151.02 L600.15,151.00 L600.40,150.99 L600.65,150.97 L600.90,150.95 L601.15,150.94 L601.40,150.92 L601.65,150.90 L601.90,150.89 L602.15,150.87 L602.40,150.85 L602.65,150.84 L602.90,150.82 L603.15,150.80 L603.40,150.78 L603.65,150.77 L603.90,150.75 L604.15,150.73 L604.40,150.71 L604.65,150.70 L604.90,150.68 L605.15,150.69 L605.40,150.71 L605.65,150.74 L605.90,150.76 L606.15,150.79 L606.40,150.81 L606.65,150.84 L606.90,150.86 L607.15,150.89 L607.40,150.91 L607.65,150.94 L607.90,150.96 L608.15,150.99 L608.40,151.01 L608.65,151.03 L608.90,151.05 L609.15,151.07 L609.40,151.09 L609.65,151.10 L609.90,151.11 L610.15,151.10 L610.40,151.08 L610.65,151.04 L610.90,150.98 L611.15,150.89 L611.40,150.78 L611.65,150.65 L611.90,150.52 L612.15,150.39 L612.40,150.31 L612.65,150.28 L612.90,150.33 L613.15,150.45 L613.40,150.61 L613.65,150.80 L613.90,150.98 L614.15,151.15 L614.40,151.30 L614.65,151.43 L614.90,151.53 L615.15,151.61 L615.40,151.67 L615.65,151.72 L615.90,151.76 L616.15,151.80 L616.40,151.83 L616.65,151.85 L616.90,151.81 L617.15,151.76 L617.40,151.72 L617.65,151.68 L617.90,151.64 L618.15,151.59 L618.40,151.55 L618.65,151.51 L618.90,151.46 L619.15,151.42 L619.40,151.37 L619.65,151.33 L619.90,151.29 L620.15,151.24 L620.40,151.20 L620.65,151.15 L620.90,151.11 L621.15,151.06 L621.40,151.02 L621.65,150.97 L621.90,150.93 L622.15,150.88 L622.40,150.84 L622.65,150.80 L622.90,150.81 L623.15,150.84 L623.40,150.86 L623.65,150.89 L623.90,150.92 L624.15,150.95 L624.40,150.97 L624.65,151.00 L624.90,151.03 L625.15,151.06 L625.40,151.08 L625.65,151.11 L625.90,151.14 L626.15,151.17 L626.40,151.19 L626.65,151.22 L626.90,151.25 L627.15,151.27 L627.40,151.30 L627.65,151.33 L627.90,151.36 L628.15,151.38 L628.40,151.41 L628.65,151.44 L628.90,151.47 L629.15,151.49 L629.40,151.52 L629.65,151.55 L629.90,151.57 L630.15,151.60 L630.40,151.63 L630.65,151.66 L630.90,151.68 L631.15,151.71 L631.40,151.74 L631.65,151.77 L631.90,151.79 L632.15,151.82 L632.40,151.85 L632.65,151.88 L632.90,151.88 L633.15,151.87 L633.40,151.85 L633.65,151.84 L633.90,151.82 L634.15,151.80 L634.40,151.79 L634.65,151.77 L634.90,151.75 L635.15,151.74 L635.40,151.72 L635.65,151.71 L635.90,151.69 L636.15,151.67 L636.40,151.66 L636.65,151.64 L636.90,151.62 L637.15,151.61 L637.40,151.59 L637.65,151.58 L637.90,151.56 L638.15,151.54 L638.40,151.53 L638.65,151.51 L638.90,151.49 L639.15,151.48 L639.40,151.46 L639.65,151.44 L639.90,151.43 L640.15,151.41 L640.40,151.40 L640.65,151.38 L640.90,151.36 L641.15,151.35 L641.40,151.33 L641.65,151.31 L641.90,151.30 L642.15,151.28 L642.40,151.26 L642.65,151.25 L642.90,151.23 L643.15,151.21 L643.40,151.20 L643.65,151.18 L643.90,151.16 L644.15,151.15 L644.40,151.13 L644.65,151.11 L644.90,151.09 L645.15,151.08 L645.40,151.06 L645.65,151.04 L645.90,151.02 L646.15,151.00 L646.40,150.97 L646.65,150.94 L646.90,150.91 L647.15,150.87 L647.40,150.83 L647.65,150.78 L647.90,150.72 L648.15,150.66 L648.40,150.59 L648.65,150.51 L648.90,150.44 L649.15,150.38 L649.40,150.33 L649.65,150.30 L649.90,150.31 L650.15,150.35 L650.40,150.40 L650.65,150.46 L650.90,150.53 L651.15,150.59 L651.40,150.65 L651.65,150.71 L651.90,150.76 L652.15,150.80 L652.40,150.83 L652.65,150.86 L652.90,150.88 L653.15,150.90 L653.40,150.92 L653.65,150.93 L653.90,150.95 L654.15,150.96 L654.40,150.97 L654.65,150.98 L654.90,151.00 L655.15,151.01 L655.40,151.02 L655.65,151.03 L655.90,151.04 L656.15,151.05 L656.40,151.06 L656.65,151.07 L656.90,151.08 L657.15,151.09 L657.40,151.10 L657.65,151.11 L657.90,151.12 L658.15,151.13 L658.40,151.14 L658.65,151.16 L658.90,151.17 L659.15,151.18 L659.40,151.19 L659.65,151.20 L659.90,151.21 L660.15,151.22 L660.40,151.23 L660.65,151.24 L660.90,151.25 L661.15,151.26 L661.40,151.27 L661.65,151.28 L661.90,151.29" stroke="#111" stroke-width="1.9"/>
</g>
<g stroke="#5cd6d0" stroke-width="1.2"><line x1="310.4" y1="159.2" x2="310.4" y2="164.2"/><line x1="337.0" y1="159.2" x2="337.0" y2="164.2"/><line x1="357.8" y1="159.2" x2="357.8" y2="164.2"/><line x1="367.5" y1="159.2" x2="367.5" y2="164.2"/><line x1="375.8" y1="159.2" x2="375.8" y2="164.2"/><line x1="391.3" y1="159.2" x2="391.3" y2="164.2"/><line x1="398.3" y1="159.2" x2="398.3" y2="164.2"/><line x1="405.2" y1="159.2" x2="405.2" y2="164.2"/><line x1="412.2" y1="159.2" x2="412.2" y2="164.2"/><line x1="418.9" y1="159.2" x2="418.9" y2="164.2"/><line x1="425.0" y1="159.2" x2="425.0" y2="164.2"/><line x1="431.6" y1="159.2" x2="431.6" y2="164.2"/><line x1="437.3" y1="159.2" x2="437.3" y2="164.2"/><line x1="443.0" y1="159.2" x2="443.0" y2="164.2"/><line x1="448.6" y1="159.2" x2="448.6" y2="164.2"/><line x1="454.3" y1="159.2" x2="454.3" y2="164.2"/><line x1="460.1" y1="159.2" x2="460.1" y2="164.2"/><line x1="464.8" y1="159.2" x2="464.8" y2="164.2"/><line x1="469.7" y1="159.2" x2="469.7" y2="164.2"/><line x1="474.8" y1="159.2" x2="474.8" y2="164.2"/><line x1="484.3" y1="159.2" x2="484.3" y2="164.2"/><line x1="488.7" y1="159.2" x2="488.7" y2="164.2"/><line x1="493.6" y1="159.2" x2="493.6" y2="164.2"/><line x1="498.5" y1="159.2" x2="498.5" y2="164.2"/><line x1="502.3" y1="159.2" x2="502.3" y2="164.2"/><line x1="508.5" y1="159.2" x2="508.5" y2="164.2"/><line x1="511.6" y1="159.2" x2="511.6" y2="164.2"/><line x1="515.4" y1="159.2" x2="515.4" y2="164.2"/><line x1="520.0" y1="159.2" x2="520.0" y2="164.2"/><line x1="522.8" y1="159.2" x2="522.8" y2="164.2"/><line x1="524.7" y1="159.2" x2="524.7" y2="164.2"/><line x1="527.7" y1="159.2" x2="527.7" y2="164.2"/><line x1="532.4" y1="159.2" x2="532.4" y2="164.2"/><line x1="535.8" y1="159.2" x2="535.8" y2="164.2"/><line x1="537.5" y1="159.2" x2="537.5" y2="164.2"/><line x1="544.7" y1="159.2" x2="544.7" y2="164.2"/><line x1="551.6" y1="159.2" x2="551.6" y2="164.2"/><line x1="555.8" y1="159.2" x2="555.8" y2="164.2"/><line x1="558.6" y1="159.2" x2="558.6" y2="164.2"/><line x1="560.9" y1="159.2" x2="560.9" y2="164.2"/><line x1="563.2" y1="159.2" x2="563.2" y2="164.2"/><line x1="566.3" y1="159.2" x2="566.3" y2="164.2"/><line x1="569.3" y1="159.2" x2="569.3" y2="164.2"/><line x1="572.4" y1="159.2" x2="572.4" y2="164.2"/><line x1="575.5" y1="159.2" x2="575.5" y2="164.2"/><line x1="578.6" y1="159.2" x2="578.6" y2="164.2"/><line x1="581.2" y1="159.2" x2="581.2" y2="164.2"/><line x1="582.6" y1="159.2" x2="582.6" y2="164.2"/><line x1="584.0" y1="159.2" x2="584.0" y2="164.2"/><line x1="588.6" y1="159.2" x2="588.6" y2="164.2"/><line x1="590.2" y1="159.2" x2="590.2" y2="164.2"/><line x1="591.8" y1="159.2" x2="591.8" y2="164.2"/><line x1="593.5" y1="159.2" x2="593.5" y2="164.2"/><line x1="595.0" y1="159.2" x2="595.0" y2="164.2"/><line x1="597.3" y1="159.2" x2="597.3" y2="164.2"/><line x1="600.4" y1="159.2" x2="600.4" y2="164.2"/><line x1="601.8" y1="159.2" x2="601.8" y2="164.2"/><line x1="602.7" y1="159.2" x2="602.7" y2="164.2"/><line x1="606.6" y1="159.2" x2="606.6" y2="164.2"/><line x1="607.8" y1="159.2" x2="607.8" y2="164.2"/><line x1="609.1" y1="159.2" x2="609.1" y2="164.2"/><line x1="610.4" y1="159.2" x2="610.4" y2="164.2"/><line x1="612.0" y1="159.2" x2="612.0" y2="164.2"/><line x1="614.3" y1="159.2" x2="614.3" y2="164.2"/><line x1="618.1" y1="159.2" x2="618.1" y2="164.2"/><line x1="619.6" y1="159.2" x2="619.6" y2="164.2"/><line x1="621.1" y1="159.2" x2="621.1" y2="164.2"/><line x1="622.7" y1="159.2" x2="622.7" y2="164.2"/><line x1="625.8" y1="159.2" x2="625.8" y2="164.2"/><line x1="628.9" y1="159.2" x2="628.9" y2="164.2"/><line x1="630.2" y1="159.2" x2="630.2" y2="164.2"/><line x1="631.5" y1="159.2" x2="631.5" y2="164.2"/><line x1="632.8" y1="159.2" x2="632.8" y2="164.2"/></g>
<g stroke="#ee4550" stroke-width="1.2"><line x1="318.6" y1="249.3" x2="318.6" y2="254.5"/><line x1="333.1" y1="249.3" x2="333.1" y2="254.5"/><line x1="377.9" y1="249.3" x2="377.9" y2="254.5"/><line x1="405.1" y1="249.3" x2="405.1" y2="254.5"/><line x1="410.8" y1="249.3" x2="410.8" y2="254.5"/><line x1="443.9" y1="249.3" x2="443.9" y2="254.5"/><line x1="463.7" y1="249.3" x2="463.7" y2="254.5"/><line x1="469.4" y1="249.3" x2="469.4" y2="254.5"/><line x1="492.5" y1="249.3" x2="492.5" y2="254.5"/><line x1="508.5" y1="249.3" x2="508.5" y2="254.5"/><line x1="533.6" y1="249.3" x2="533.6" y2="254.5"/><line x1="547.6" y1="249.3" x2="547.6" y2="254.5"/><line x1="551.7" y1="249.3" x2="551.7" y2="254.5"/><line x1="569.2" y1="249.3" x2="569.2" y2="254.5"/><line x1="582.2" y1="249.3" x2="582.2" y2="254.5"/><line x1="586.3" y1="249.3" x2="586.3" y2="254.5"/><line x1="602.6" y1="249.3" x2="602.6" y2="254.5"/><line x1="613.6" y1="249.3" x2="613.6" y2="254.5"/><line x1="617.5" y1="249.3" x2="617.5" y2="254.5"/><line x1="632.3" y1="249.3" x2="632.3" y2="254.5"/></g>
<g stroke="#111" stroke-width="1.3"><line x1="321.2" y1="258.5" x2="321.2" y2="263.5"/><line x1="336.6" y1="258.5" x2="336.6" y2="263.5"/><line x1="380.6" y1="258.5" x2="380.6" y2="263.5"/><line x1="408.6" y1="258.5" x2="408.6" y2="263.5"/><line x1="413.3" y1="258.5" x2="413.3" y2="263.5"/><line x1="447.0" y1="258.5" x2="447.0" y2="263.5"/><line x1="466.3" y1="258.5" x2="466.3" y2="263.5"/><line x1="472.3" y1="258.5" x2="472.3" y2="263.5"/><line x1="495.1" y1="258.5" x2="495.1" y2="263.5"/><line x1="511.4" y1="258.5" x2="511.4" y2="263.5"/><line x1="536.7" y1="258.5" x2="536.7" y2="263.5"/><line x1="550.1" y1="258.5" x2="550.1" y2="263.5"/><line x1="555.5" y1="258.5" x2="555.5" y2="263.5"/><line x1="572.7" y1="258.5" x2="572.7" y2="263.5"/><line x1="584.7" y1="258.5" x2="584.7" y2="263.5"/><line x1="589.2" y1="258.5" x2="589.2" y2="263.5"/><line x1="604.9" y1="258.5" x2="604.9" y2="263.5"/><line x1="616.0" y1="258.5" x2="616.0" y2="263.5"/><line x1="620.0" y1="258.5" x2="620.0" y2="263.5"/><line x1="635.6" y1="258.5" x2="635.6" y2="263.5"/></g>
<g stroke="#4040ff" stroke-width="1.2"><line x1="329.2" y1="339.8" x2="329.2" y2="343.8"/><line x1="345.6" y1="339.8" x2="345.6" y2="343.8"/><line x1="395.8" y1="339.8" x2="395.8" y2="343.8"/><line x1="426.0" y1="339.8" x2="426.0" y2="343.8"/><line x1="434.7" y1="339.8" x2="434.7" y2="343.8"/><line x1="467.3" y1="339.8" x2="467.3" y2="343.8"/><line x1="489.3" y1="339.8" x2="489.3" y2="343.8"/><line x1="496.3" y1="339.8" x2="496.3" y2="343.8"/><line x1="521.9" y1="339.8" x2="521.9" y2="343.8"/><line x1="539.8" y1="339.8" x2="539.8" y2="343.8"/><line x1="568.0" y1="339.8" x2="568.0" y2="343.8"/><line x1="583.5" y1="339.8" x2="583.5" y2="343.8"/><line x1="588.3" y1="339.8" x2="588.3" y2="343.8"/><line x1="608.2" y1="339.8" x2="608.2" y2="343.8"/><line x1="622.5" y1="339.8" x2="622.5" y2="343.8"/><line x1="627.4" y1="339.8" x2="627.4" y2="343.8"/></g>
<rect x="229.3" y="2.2" width="453.4" height="346.1" fill="none" stroke="#555" stroke-width="1.3"/>
<g stroke="#555" stroke-width="1.1"><line x1="225.8" y1="338.5" x2="229.3" y2="338.5"/><line x1="225.8" y1="297.3" x2="229.3" y2="297.3"/><line x1="225.8" y1="256.1" x2="229.3" y2="256.1"/><line x1="225.8" y1="214.9" x2="229.3" y2="214.9"/><line x1="225.8" y1="173.7" x2="229.3" y2="173.7"/><line x1="225.8" y1="132.6" x2="229.3" y2="132.6"/><line x1="225.8" y1="91.4" x2="229.3" y2="91.4"/><line x1="225.8" y1="50.2" x2="229.3" y2="50.2"/><line x1="225.8" y1="9.0" x2="229.3" y2="9.0"/><line x1="318.9" y1="348.3" x2="318.9" y2="351.8"/><line x1="413.8" y1="348.3" x2="413.8" y2="351.8"/><line x1="508.7" y1="348.3" x2="508.7" y2="351.8"/><line x1="603.6" y1="348.3" x2="603.6" y2="351.8"/></g>
<g font-family="Liberation Sans" font-size="9.7" fill="#222" stroke="#222" stroke-width="0.12"><text x="222.6" y="341.9" text-anchor="end">0</text><text x="222.6" y="300.8" text-anchor="end">1000</text><text x="222.6" y="259.6" text-anchor="end">2000</text><text x="222.6" y="218.4" text-anchor="end">3000</text><text x="222.6" y="177.2" text-anchor="end">4000</text><text x="222.6" y="136.0" text-anchor="end">5000</text><text x="222.6" y="94.8" text-anchor="end">6000</text><text x="222.6" y="53.6" text-anchor="end">7000</text><text x="222.6" y="12.4" text-anchor="end">8000</text><text x="318.9" y="361.0" text-anchor="middle">2</text><text x="413.8" y="361.0" text-anchor="middle">4</text><text x="508.7" y="361.0" text-anchor="middle">6</text><text x="603.6" y="361.0" text-anchor="middle">8</text></g>
<text transform="translate(191.4,205.6) rotate(-90)" font-family="Liberation Sans" font-style="italic" font-size="13.4" fill="#111" stroke="#111" stroke-width="0.3" textLength="60" lengthAdjust="spacing">Intensity</text>
<text x="435" y="381.3" font-family="Liberation Sans" font-style="italic" font-size="14.2" fill="#111" stroke="#111" stroke-width="0.25">Q,<tspan dx="2.0">Å</tspan><tspan x="464.4" y="376.0" font-size="10.5" font-style="normal">−</tspan><tspan x="472.2" y="375.2" font-size="10.5" font-style="normal">1</tspan></text>
<g font-family="Liberation Sans" font-weight="bold">
 <text x="247.5" y="164.6" font-size="16.2" fill="#4a7be6">U<tspan font-size="11.6" dy="3.9">3</tspan><tspan dy="-3.9">O</tspan><tspan font-size="11.6" dy="3.9">8</tspan></text>
 <text x="251.2" y="255.2" font-size="16.2" fill="#f52222">UO<tspan font-size="11" dy="4">2+x</tspan></text>
 <text x="239.4" y="275.4" font-size="12.6" fill="#111" letter-spacing="0.5">U<tspan font-size="10" dy="3.2">2</tspan><tspan dy="-3.2">(N,O)</tspan><tspan font-size="10" dy="3.6">3+x</tspan></text>
 <text x="253.4" y="340.1" font-size="16.3" fill="#8a14f6" letter-spacing="1">UN</text>
</g>

</svg>
</body></html>
